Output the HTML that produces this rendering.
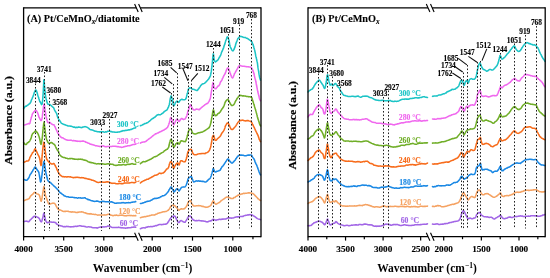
<!DOCTYPE html>
<html><head><meta charset="utf-8"><style>
html,body{margin:0;padding:0;background:#fff;width:550px;height:278px;overflow:hidden}
svg{will-change:transform;filter:blur(0.4px)}
</style></head><body>
<svg width="550" height="278" viewBox="0 0 550 278" style="display:block">
<rect width="550" height="278" fill="#fff"/>
<path d="M23.60,221.81 L24.40,221.56 L25.04,221.31 L25.84,221.15 L26.60,221.13 L27.26,221.33 L27.89,221.69 L28.50,221.81 L28.96,221.60 L29.41,221.04 L29.85,220.28 L30.30,219.80 L30.87,219.33 L31.43,218.85 L32.10,218.12 L32.58,217.75 L33.12,217.13 L33.68,216.62 L34.25,216.26 L34.80,216.26 L35.49,216.48 L36.20,216.62 L36.88,216.91 L37.50,217.16 L38.20,217.41 L38.80,217.98 L39.40,218.78 L39.71,219.42 L40.03,220.02 L40.34,220.78 L40.64,221.25 L40.93,221.70 L41.20,221.86 L41.50,221.77 L41.78,221.25 L42.04,220.40 L42.28,219.52 L42.50,218.85 L42.70,218.04 L42.87,217.41 L43.02,216.86 L43.16,216.06 L43.30,215.31 L43.51,214.56 L43.70,213.42 L43.90,213.00 L44.07,213.49 L44.24,214.09 L44.42,214.86 L44.60,215.90 L44.72,216.33 L44.83,217.01 L44.94,217.77 L45.09,218.44 L45.30,219.29 L45.50,220.07 L45.73,220.63 L45.99,221.07 L46.27,221.70 L46.55,222.06 L46.83,222.46 L47.10,222.64 L47.68,222.83 L48.26,222.34 L48.90,222.27 L49.61,222.01 L50.39,221.97 L51.20,222.10 L51.85,222.30 L52.52,222.15 L53.22,222.16 L53.90,222.14 L54.45,222.37 L55.02,222.41 L55.58,222.56 L56.11,223.25 L56.60,223.97 L57.26,224.29 L57.84,224.69 L58.50,225.15 L59.10,225.42 L59.74,225.55 L60.44,225.78 L61.20,226.05 L61.75,226.00 L62.33,226.19 L62.94,226.47 L63.56,226.70 L64.18,226.58 L64.80,226.82 L65.40,226.81 L65.98,226.47 L66.56,226.33 L67.17,226.62 L67.81,226.47 L68.50,226.52 L69.06,226.79 L69.64,226.79 L70.24,226.70 L70.87,226.93 L71.51,226.75 L72.16,226.81 L72.83,226.73 L73.50,226.60 L74.11,226.60 L74.74,226.51 L75.37,226.19 L76.02,226.29 L76.68,226.42 L77.34,226.16 L78.00,225.93 L78.65,225.97 L79.30,225.82 L79.94,225.63 L80.59,225.89 L81.23,225.99 L81.88,226.24 L82.52,226.19 L83.17,226.22 L83.81,226.21 L84.46,226.55 L85.10,226.57 L85.74,226.81 L86.39,226.97 L87.03,226.94 L87.68,226.91 L88.32,226.82 L88.97,226.85 L89.61,226.95 L90.26,226.98 L90.90,227.07 L91.54,227.25 L92.19,227.57 L92.83,227.67 L93.48,227.75 L94.12,227.75 L94.77,227.80 L95.41,227.76 L96.06,227.75 L96.70,227.87 L97.34,228.11 L97.99,227.74 L98.63,227.40 L99.27,227.35 L99.92,227.22 L100.56,226.89 L101.20,227.02 L101.85,227.12 L102.50,227.04 L103.15,226.85 L103.81,227.04 L104.46,227.06 L105.12,226.85 L105.78,226.75 L106.44,226.74 L107.09,226.41 L107.75,226.04 L108.40,226.07 L109.05,226.26 L109.70,226.23 L110.34,226.35 L110.98,226.93 L111.63,227.23 L112.27,227.43 L112.91,227.50 L113.56,227.57 L114.20,227.49 L114.83,227.52 L115.43,227.50 L116.03,227.40 L116.62,227.59 L117.22,227.45 L117.85,227.46 L118.52,227.14 L119.23,227.48 L120.00,227.49 L120.54,227.65 L121.10,227.60 L121.70,227.88 L122.32,227.87 L122.96,227.72 L123.61,227.93 L124.27,228.03 L124.93,227.90 L125.59,228.21 L126.25,228.08 L126.89,228.01 L127.52,227.85 L128.12,227.89 L128.70,227.64 L129.43,227.79 L130.18,227.75 L130.94,227.57 L131.70,227.36 L132.44,227.32 L133.14,227.16 L133.81,226.94 L134.42,226.92 L134.96,227.24 L135.43,227.08 L135.80,227.15" fill="none" stroke="#A266E6" stroke-width="1.55" stroke-linejoin="round" stroke-linecap="round"/>
<path d="M140.40,228.66 L140.94,228.44 L142.00,228.02 L142.47,227.93 L143.02,227.83 L143.64,227.72 L144.29,227.78 L144.95,227.91 L145.60,227.68 L146.20,227.14 L146.84,227.30 L147.43,226.98 L148.02,226.68 L148.62,226.64 L149.27,226.81 L150.00,226.69 L150.54,226.49 L151.11,226.60 L151.71,226.64 L152.33,226.66 L152.97,226.36 L153.61,226.29 L154.25,226.17 L154.88,225.90 L155.50,225.64 L156.11,225.73 L156.74,225.69 L157.37,225.19 L158.01,225.03 L158.63,224.69 L159.24,224.52 L159.82,224.49 L160.38,224.59 L160.90,224.54 L161.61,224.71 L162.25,224.47 L162.84,224.44 L163.40,224.36 L163.94,224.34 L164.50,224.27 L165.19,224.30 L165.88,223.94 L166.54,223.91 L167.16,223.37 L167.70,222.76 L168.15,221.92 L168.52,221.62 L168.84,220.79 L169.16,220.41 L169.50,219.92 L169.81,219.62 L170.13,218.84 L170.45,218.42 L170.77,218.06 L171.09,217.58 L171.40,217.24 L172.01,216.91 L172.60,216.60 L173.20,216.11 L173.80,215.98 L174.40,216.12 L175.00,216.19 L175.30,216.51 L175.60,217.27 L175.90,218.00 L176.20,218.48 L176.50,219.38 L176.80,220.03 L177.09,220.36 L177.38,220.74 L177.67,221.32 L177.96,221.93 L178.27,222.29 L178.60,222.57 L179.11,222.49 L179.64,221.76 L180.22,220.96 L180.90,220.56 L181.44,220.82 L182.07,220.94 L182.72,221.56 L183.38,221.90 L183.98,222.10 L184.50,222.23 L185.10,222.27 L185.56,221.48 L185.97,220.80 L186.40,220.32 L186.66,219.66 L186.91,219.17 L187.15,218.85 L187.40,218.35 L187.65,217.71 L187.92,217.37 L188.20,216.95 L188.95,216.39 L189.75,215.95 L190.50,216.25 L190.89,216.61 L191.24,217.05 L191.58,217.59 L191.92,218.70 L192.30,218.89 L192.81,219.26 L193.34,219.98 L193.90,220.24 L194.50,220.31 L195.17,220.84 L195.90,220.74 L196.63,220.46 L197.30,220.67 L197.99,220.54 L198.62,220.40 L199.50,220.59 L200.04,220.70 L200.66,220.69 L201.35,220.88 L202.06,220.88 L202.76,220.92 L203.42,221.03 L204.00,221.13 L204.71,221.16 L205.36,221.29 L205.94,221.75 L206.49,221.84 L207.00,221.93 L207.74,221.66 L208.37,221.68 L209.00,221.23 L209.69,221.09 L210.39,220.82 L211.00,220.88 L211.71,220.51 L212.30,219.87 L213.30,219.20 L213.87,219.43 L214.50,219.71 L215.20,219.97 L216.00,220.45 L216.63,220.07 L217.31,219.78 L218.00,219.76 L218.63,219.56 L219.26,219.24 L220.00,219.21 L220.51,219.47 L221.05,219.46 L221.63,219.19 L222.28,218.97 L223.00,219.18 L223.59,218.96 L224.23,218.96 L224.92,219.11 L225.62,219.08 L226.34,218.81 L227.03,218.35 L227.70,217.97 L228.35,217.82 L229.00,217.94 L229.64,217.79 L230.27,218.00 L230.88,218.11 L231.46,218.12 L232.00,218.07 L232.65,218.07 L233.21,217.91 L233.73,217.79 L234.31,217.60 L235.00,217.29 L235.52,217.11 L236.09,217.07 L236.69,216.89 L237.33,216.83 L237.96,216.86 L238.60,216.88 L239.22,216.79 L239.80,216.57 L240.43,216.51 L241.05,216.54 L241.65,216.46 L242.25,216.35 L242.83,216.46 L243.42,216.19 L244.00,215.74 L244.69,215.59 L245.38,215.39 L246.06,215.32 L246.73,215.21 L247.38,215.03 L248.00,214.81 L248.71,215.00 L249.40,214.76 L250.06,214.63 L250.66,214.79 L251.20,214.95 L251.92,214.89 L252.48,215.11 L253.00,215.63 L253.71,216.07 L254.40,216.34 L254.92,216.65 L255.47,217.16 L256.00,217.47 L256.49,217.93 L256.96,218.25 L257.50,218.59 L258.20,218.89 L258.97,219.13 L259.60,219.28 L260.50,219.66" fill="none" stroke="#A266E6" stroke-width="1.55" stroke-linejoin="round" stroke-linecap="round"/>
<path d="M23.60,200.71 L24.40,200.35 L24.85,200.39 L25.41,200.14 L26.01,199.76 L26.60,199.41 L27.18,199.59 L27.78,199.14 L28.36,198.94 L28.90,198.80 L29.37,198.34 L29.80,197.30 L30.23,196.73 L30.70,196.04 L31.14,195.56 L31.61,195.11 L32.09,194.72 L32.56,194.30 L33.00,193.90 L33.62,193.14 L34.18,192.55 L34.80,192.37 L35.23,192.54 L35.68,192.74 L36.16,193.13 L36.63,193.62 L37.10,193.91 L37.69,194.11 L38.28,194.26 L38.86,194.61 L39.40,195.32 L39.63,196.04 L39.85,196.72 L40.06,197.66 L40.27,198.36 L40.47,199.27 L40.66,199.97 L40.85,200.68 L41.03,200.99 L41.20,201.28 L41.38,200.71 L41.55,200.36 L41.71,199.75 L41.86,198.91 L42.01,198.11 L42.14,197.57 L42.27,196.46 L42.40,195.41 L42.51,194.91 L42.61,194.21 L42.70,193.33 L42.79,192.89 L42.87,192.50 L42.96,192.07 L43.04,191.62 L43.12,191.40 L43.20,191.01 L43.35,189.88 L43.49,188.81 L43.62,187.77 L43.76,186.89 L43.90,186.52 L44.04,186.91 L44.18,187.64 L44.31,188.42 L44.45,189.33 L44.60,190.22 L44.71,190.79 L44.81,191.32 L44.91,192.16 L45.02,192.89 L45.14,193.65 L45.26,194.37 L45.40,195.02 L45.56,195.63 L45.73,196.35 L45.91,196.57 L46.10,197.05 L46.33,197.74 L46.60,198.36 L46.81,198.94 L47.04,199.90 L47.29,200.49 L47.55,201.12 L47.82,201.90 L48.09,202.54 L48.37,203.13 L48.64,203.73 L48.90,203.98 L49.69,204.27 L50.47,203.88 L51.20,203.56 L51.84,203.41 L52.42,203.25 L53.00,203.07 L53.60,203.17 L54.20,203.27 L54.80,203.58 L55.16,204.09 L55.52,204.73 L55.87,205.38 L56.23,206.13 L56.60,206.75 L57.05,207.67 L57.49,208.30 L57.97,208.98 L58.50,209.44 L58.97,209.97 L59.48,209.73 L60.02,209.96 L60.59,210.10 L61.20,210.36 L61.75,210.63 L62.33,211.03 L62.94,211.33 L63.56,211.43 L64.18,211.52 L64.80,211.36 L65.40,211.38 L65.98,211.37 L66.56,211.23 L67.17,211.35 L67.81,211.25 L68.50,211.38 L69.07,211.64 L69.67,211.81 L70.31,211.74 L70.96,212.07 L71.62,212.11 L72.27,211.82 L72.90,211.94 L73.50,212.05 L74.15,212.03 L74.78,211.96 L75.39,212.28 L75.99,212.46 L76.58,212.40 L77.19,212.35 L77.80,212.39 L78.44,212.34 L79.09,212.03 L79.76,212.07 L80.41,211.95 L81.05,211.89 L81.65,211.81 L82.20,212.09 L82.83,212.10 L83.33,212.22 L83.80,212.58 L84.36,212.68 L85.10,212.75 L85.63,213.04 L86.23,213.38 L86.88,213.34 L87.57,213.75 L88.28,213.84 L88.99,213.88 L89.67,213.79 L90.31,213.97 L90.90,213.60 L91.68,213.98 L92.37,214.21 L93.03,214.30 L93.66,214.27 L94.31,214.43 L95.00,214.48 L95.63,214.37 L96.28,214.62 L96.95,214.87 L97.62,215.15 L98.29,214.96 L98.95,215.08 L99.60,214.95 L100.24,214.98 L100.87,215.01 L101.50,215.16 L102.12,215.07 L102.75,215.07 L103.37,215.04 L104.00,214.88 L104.63,214.94 L105.25,214.97 L105.88,214.96 L106.50,214.79 L107.13,214.69 L107.76,214.34 L108.40,214.19 L109.05,214.28 L109.71,214.49 L110.38,214.76 L111.05,215.25 L111.72,215.34 L112.37,215.42 L113.00,215.77 L113.70,215.53 L114.37,215.24 L115.03,215.35 L115.69,215.36 L116.38,215.08 L117.10,215.30 L117.66,215.43 L118.23,215.46 L118.80,215.57 L119.39,215.34 L120.00,215.31 L120.63,215.31 L121.30,215.21 L122.00,215.02 L122.54,215.33 L123.10,215.37 L123.69,215.45 L124.29,215.67 L124.90,215.83 L125.53,215.82 L126.16,215.88 L126.80,215.63 L127.43,215.53 L128.07,215.54 L128.70,215.41 L129.36,215.39 L130.06,215.64 L130.80,215.52 L131.55,215.52 L132.30,215.78 L133.03,215.71 L133.72,215.61 L134.36,215.68 L134.94,215.77 L135.42,215.56 L135.80,215.71" fill="none" stroke="#F5A262" stroke-width="1.55" stroke-linejoin="round" stroke-linecap="round"/>
<path d="M140.40,217.70 L140.94,217.58 L142.00,217.36 L142.45,217.01 L142.98,216.96 L143.56,217.03 L144.18,216.68 L144.84,216.63 L145.51,216.68 L146.20,216.43 L146.76,216.26 L147.36,216.18 L147.99,215.95 L148.63,216.04 L149.27,215.81 L149.90,215.53 L150.51,215.43 L151.08,215.19 L151.60,214.94 L152.40,215.00 L153.07,214.95 L153.69,214.92 L154.31,215.11 L155.00,214.79 L155.57,214.34 L156.19,214.19 L156.83,214.05 L157.47,213.49 L158.08,213.26 L158.63,213.23 L159.10,213.07 L159.80,212.66 L160.25,212.64 L160.90,212.52 L161.40,212.38 L161.98,212.14 L162.61,212.08 L163.26,211.84 L163.90,211.82 L164.50,211.73 L165.19,211.48 L165.88,211.40 L166.54,211.16 L167.16,210.82 L167.70,210.47 L168.25,210.26 L168.68,209.62 L169.08,209.17 L169.50,208.64 L169.97,207.77 L170.45,206.95 L170.93,206.31 L171.40,205.91 L172.01,205.41 L172.60,205.22 L173.20,205.20 L173.80,205.35 L174.40,205.40 L175.00,205.94 L175.45,206.49 L175.90,206.85 L176.35,207.38 L176.80,207.77 L177.24,208.21 L177.67,208.96 L178.11,209.76 L178.60,210.01 L179.11,210.12 L179.64,209.71 L180.22,209.24 L180.90,208.97 L181.44,208.80 L182.07,209.01 L182.72,208.99 L183.38,208.93 L183.98,208.69 L184.50,208.75 L185.10,208.01 L185.56,207.45 L185.97,207.01 L186.40,206.39 L186.63,205.88 L186.85,205.78 L187.06,205.43 L187.28,204.73 L187.49,204.10 L187.72,203.46 L187.95,202.82 L188.20,202.24 L188.76,201.61 L189.38,200.76 L189.98,200.71 L190.50,200.55 L190.88,201.15 L191.18,202.03 L191.46,203.14 L191.80,203.69 L192.11,204.24 L192.44,204.67 L192.78,204.96 L193.17,205.57 L193.60,205.94 L194.22,206.10 L194.92,206.01 L195.66,205.94 L196.40,205.76 L196.98,205.69 L197.55,205.73 L198.14,205.72 L198.79,205.49 L199.50,205.68 L200.08,205.85 L200.73,205.78 L201.41,206.09 L202.10,206.43 L202.78,206.24 L203.42,206.53 L204.00,206.82 L204.71,206.96 L205.36,207.11 L205.94,207.42 L206.49,207.14 L207.00,207.24 L207.74,207.03 L208.37,206.72 L209.00,206.44 L209.52,206.34 L210.04,205.96 L210.55,205.52 L211.00,205.08 L211.38,204.22 L211.71,203.51 L212.01,202.84 L212.30,202.43 L212.65,201.54 L212.96,200.98 L213.30,200.87 L213.67,201.15 L214.07,201.92 L214.50,202.93 L214.96,203.51 L215.45,203.95 L216.00,204.16 L216.63,204.00 L217.31,203.47 L218.00,203.09 L218.49,202.78 L218.97,202.81 L219.46,202.34 L220.00,201.89 L220.47,201.59 L220.96,200.97 L221.48,200.36 L221.99,200.14 L222.50,199.83 L223.12,199.43 L223.74,198.98 L224.36,198.64 L225.00,198.05 L225.67,197.66 L226.36,197.19 L227.05,197.05 L227.70,196.92 L228.50,197.19 L229.25,197.49 L230.00,197.88 L230.75,198.37 L231.50,198.50 L232.30,198.55 L232.81,198.58 L233.34,198.26 L233.88,197.57 L234.43,197.51 L235.00,197.39 L235.60,196.68 L236.24,196.29 L236.87,196.15 L237.47,195.65 L238.00,195.20 L238.60,195.11 L239.07,194.79 L239.80,194.55 L240.28,194.46 L240.83,194.14 L241.44,193.95 L242.09,193.97 L242.74,193.63 L243.39,193.37 L244.00,193.36 L244.69,193.43 L245.38,193.24 L246.06,193.27 L246.73,193.15 L247.38,193.10 L248.00,192.88 L248.72,192.84 L249.41,192.89 L250.07,192.95 L250.68,193.07 L251.20,193.04 L252.10,193.27 L252.80,193.40 L253.33,193.94 L253.87,194.17 L254.40,194.79 L254.94,195.39 L255.47,196.01 L256.00,196.36 L256.49,197.03 L256.96,197.43 L257.50,198.01 L258.01,198.77 L258.59,198.96 L259.15,199.49 L259.60,200.06 L260.50,200.53" fill="none" stroke="#F5A262" stroke-width="1.55" stroke-linejoin="round" stroke-linecap="round"/>
<path d="M23.60,179.23 L24.40,179.66 L25.04,179.86 L25.84,180.28 L26.60,180.24 L27.10,180.05 L27.58,179.40 L28.04,178.88 L28.50,178.34 L28.76,177.99 L29.02,177.36 L29.28,176.75 L29.53,176.07 L29.79,175.30 L30.04,174.79 L30.30,174.35 L30.65,173.94 L31.00,173.49 L31.34,173.11 L31.71,172.42 L32.10,171.71 L32.41,171.26 L32.76,170.71 L33.12,169.94 L33.49,169.34 L33.83,168.84 L34.14,168.33 L34.40,167.98 L34.88,167.03 L35.30,167.09 L35.60,167.45 L35.96,167.77 L36.34,168.45 L36.73,169.21 L37.10,169.72 L37.46,170.23 L37.82,170.83 L38.18,171.03 L38.54,171.71 L38.90,172.62 L39.01,173.24 L39.13,173.57 L39.24,174.43 L39.36,175.01 L39.47,175.97 L39.59,176.75 L39.70,177.31 L39.82,177.91 L39.93,178.82 L40.05,179.45 L40.16,179.78 L40.27,180.94 L40.38,181.50 L40.49,181.63 L40.60,181.99 L40.70,181.97 L40.81,181.78 L40.92,181.49 L41.03,181.35 L41.13,180.93 L41.24,180.58 L41.35,179.63 L41.45,178.78 L41.55,178.14 L41.65,177.29 L41.75,176.37 L41.84,175.84 L41.94,175.33 L42.03,174.52 L42.12,173.48 L42.20,172.93 L42.29,172.28 L42.38,171.63 L42.47,170.99 L42.55,170.28 L42.63,169.67 L42.70,168.96 L42.77,168.52 L42.85,167.67 L42.92,167.32 L42.99,166.73 L43.06,166.23 L43.13,165.37 L43.20,165.16 L43.39,163.99 L43.57,163.01 L43.74,162.06 L43.92,161.67 L44.10,161.41 L44.20,161.52 L44.30,162.01 L44.40,162.64 L44.50,163.19 L44.60,164.01 L44.70,165.07 L44.80,165.59 L44.90,166.27 L45.00,167.08 L45.09,167.70 L45.18,168.13 L45.26,168.61 L45.35,169.39 L45.43,169.98 L45.52,170.54 L45.61,171.16 L45.70,172.04 L45.80,172.43 L45.90,172.83 L46.04,173.43 L46.19,174.08 L46.34,174.65 L46.50,175.22 L46.66,176.06 L46.81,176.58 L46.96,177.29 L47.10,177.74 L47.33,178.73 L47.51,179.45 L47.72,180.16 L48.00,180.52 L48.38,181.17 L48.81,181.62 L49.29,181.70 L49.80,182.05 L50.34,182.62 L50.92,183.01 L51.51,183.44 L52.10,184.19 L52.68,184.78 L53.26,185.29 L53.83,185.86 L54.40,186.32 L54.85,186.73 L55.30,187.15 L55.75,187.58 L56.18,188.06 L56.60,188.40 L57.10,188.93 L57.58,189.48 L58.04,189.91 L58.50,190.43 L58.94,191.21 L59.35,191.73 L59.79,192.47 L60.30,192.78 L60.78,193.16 L61.32,193.29 L61.88,193.83 L62.45,194.30 L63.00,194.69 L63.54,195.11 L64.08,195.77 L64.61,195.98 L65.15,196.05 L65.70,196.34 L66.34,196.63 L66.96,196.72 L67.64,196.84 L68.50,196.81 L69.01,197.24 L69.58,197.17 L70.18,197.26 L70.81,197.29 L71.47,197.19 L72.14,197.20 L72.82,197.36 L73.50,197.48 L74.11,197.46 L74.74,197.74 L75.37,197.81 L76.02,197.79 L76.68,197.84 L77.34,198.16 L78.00,198.05 L78.65,197.75 L79.30,197.85 L79.94,197.91 L80.59,197.80 L81.23,198.03 L81.88,198.22 L82.52,198.07 L83.17,198.04 L83.81,197.90 L84.46,197.69 L85.10,197.77 L85.68,198.31 L86.26,198.63 L86.84,198.87 L87.42,199.24 L88.00,199.63 L88.58,199.49 L89.16,199.67 L89.74,199.98 L90.32,200.16 L90.90,200.48 L91.54,200.70 L92.19,200.77 L92.83,200.96 L93.48,201.23 L94.12,201.27 L94.77,201.41 L95.41,201.29 L96.06,201.14 L96.70,201.12 L97.34,201.05 L97.99,201.17 L98.63,201.41 L99.27,201.74 L99.92,201.89 L100.56,201.86 L101.20,201.75 L101.85,201.47 L102.50,201.36 L103.15,201.38 L103.81,201.49 L104.46,201.51 L105.12,201.68 L105.78,201.76 L106.44,201.66 L107.09,201.65 L107.75,201.73 L108.40,201.80 L109.05,201.90 L109.70,201.92 L110.34,201.90 L110.98,201.86 L111.63,201.87 L112.27,202.04 L112.91,202.45 L113.56,202.61 L114.20,202.87 L114.84,203.19 L115.49,203.18 L116.13,203.19 L116.78,203.11 L117.42,203.03 L118.07,202.99 L118.71,203.11 L119.36,203.00 L120.00,203.06 L120.64,203.08 L121.29,202.91 L121.93,202.59 L122.58,202.69 L123.22,202.65 L123.87,202.62 L124.51,202.89 L125.16,203.07 L125.80,202.87 L126.45,202.82 L127.12,202.82 L127.79,202.71 L128.47,202.60 L129.13,202.67 L129.79,202.71 L130.42,202.68 L131.03,202.42 L131.60,202.35 L132.32,202.30 L133.04,202.05 L133.73,201.91 L134.38,201.90 L134.95,201.72 L135.43,201.46 L135.80,201.62" fill="none" stroke="#1A88E4" stroke-width="1.55" stroke-linejoin="round" stroke-linecap="round"/>
<path d="M140.40,203.50 L140.94,203.42 L142.00,203.21 L142.45,202.98 L142.98,203.02 L143.56,202.67 L144.18,202.47 L144.84,202.15 L145.51,202.17 L146.20,201.63 L146.76,201.48 L147.36,201.37 L147.99,201.32 L148.63,201.16 L149.27,200.99 L149.90,200.95 L150.51,200.61 L151.08,200.20 L151.60,199.95 L152.27,199.68 L152.86,199.11 L153.38,198.86 L153.89,198.84 L154.42,198.47 L155.00,198.31 L155.57,198.43 L156.19,198.39 L156.83,198.19 L157.47,198.20 L158.08,198.07 L158.63,197.78 L159.10,197.66 L159.80,197.49 L160.25,197.04 L160.90,196.78 L161.41,196.45 L162.00,196.15 L162.64,195.77 L163.29,195.74 L163.93,195.68 L164.50,195.36 L165.12,194.85 L165.71,194.51 L166.26,193.95 L166.79,193.13 L167.30,192.83 L167.65,192.42 L167.99,191.81 L168.32,191.30 L168.63,190.96 L168.93,190.17 L169.22,189.59 L169.50,189.30 L169.86,188.86 L170.18,188.21 L170.49,187.69 L170.79,187.21 L171.10,186.96 L171.42,187.17 L171.75,187.59 L172.07,188.10 L172.39,188.86 L172.70,189.54 L172.99,190.03 L173.26,190.63 L173.52,191.30 L173.80,191.79 L174.10,191.84 L174.43,191.77 L174.79,191.32 L175.16,190.59 L175.53,190.08 L175.90,189.84 L176.51,188.92 L177.13,188.74 L177.70,188.96 L178.16,189.64 L178.58,190.30 L179.10,190.98 L179.42,190.59 L179.77,190.06 L180.14,189.26 L180.54,188.92 L180.96,188.12 L181.40,187.54 L181.99,187.16 L182.64,187.05 L183.31,186.88 L183.94,187.08 L184.50,187.07 L184.96,186.88 L185.35,186.43 L185.70,185.90 L186.05,185.31 L186.40,184.58 L186.58,184.10 L186.77,183.57 L186.95,183.18 L187.13,182.32 L187.31,181.62 L187.48,181.07 L187.66,180.43 L187.84,179.75 L188.02,179.17 L188.20,178.79 L188.81,177.88 L189.43,177.42 L190.00,177.20 L190.68,176.58 L191.40,176.76 L191.61,177.00 L191.84,177.67 L192.09,178.24 L192.34,178.99 L192.60,179.57 L192.86,180.27 L193.12,180.99 L193.36,181.46 L193.60,181.87 L194.19,181.78 L194.75,181.66 L195.50,181.24 L196.02,180.94 L196.64,180.84 L197.30,181.13 L197.96,181.03 L198.58,180.81 L199.10,181.15 L199.86,181.04 L200.42,181.23 L201.00,181.11 L201.66,181.41 L202.33,181.33 L203.00,181.37 L203.67,181.42 L204.33,181.76 L205.00,181.95 L205.67,181.98 L206.33,181.80 L207.00,181.13 L207.51,180.63 L208.03,180.01 L208.54,179.40 L209.00,179.11 L209.41,178.95 L209.78,178.59 L210.14,178.19 L210.50,177.58 L210.72,177.02 L210.93,176.47 L211.15,175.96 L211.37,175.17 L211.59,174.30 L211.80,173.76 L212.00,173.04 L212.20,172.38 L212.39,171.53 L212.58,170.92 L212.76,170.05 L212.94,169.25 L213.12,168.59 L213.30,168.62 L213.61,168.91 L213.92,169.75 L214.22,170.63 L214.50,171.14 L214.95,171.81 L215.50,172.09 L216.07,171.74 L216.76,171.28 L217.50,171.14 L218.10,170.97 L218.75,170.75 L219.40,170.43 L220.00,170.23 L220.36,169.85 L220.70,169.21 L221.03,168.38 L221.35,167.93 L221.67,167.40 L222.00,166.81 L222.41,166.44 L222.82,166.08 L223.24,165.53 L223.63,164.92 L224.00,164.46 L224.32,163.98 L224.60,163.44 L224.87,163.10 L225.16,162.73 L225.50,162.19 L225.90,161.44 L226.35,161.00 L226.82,160.09 L227.27,159.40 L227.70,158.92 L228.19,159.02 L228.64,159.41 L229.08,160.09 L229.50,160.71 L229.90,161.32 L230.28,161.83 L230.65,162.02 L231.00,162.50 L231.64,163.04 L232.30,163.09 L232.69,162.74 L233.11,162.37 L233.54,161.81 L234.00,161.41 L234.38,160.89 L234.78,160.54 L235.19,160.18 L235.60,159.44 L236.00,158.61 L236.40,158.17 L236.81,157.48 L237.21,156.93 L237.61,156.52 L238.00,156.09 L238.53,155.74 L239.03,155.31 L239.80,155.17 L240.36,155.01 L241.03,155.15 L241.76,155.03 L242.53,155.18 L243.28,155.25 L244.00,155.51 L244.69,155.66 L245.38,155.80 L246.06,155.68 L246.73,155.46 L247.38,155.30 L248.00,155.11 L248.72,155.10 L249.41,155.13 L250.07,155.06 L250.68,155.02 L251.20,155.01 L251.71,155.37 L252.10,156.12 L252.44,156.80 L252.80,157.39 L253.20,157.88 L253.60,158.42 L254.00,159.04 L254.40,159.76 L254.67,160.51 L254.94,161.56 L255.21,162.25 L255.47,162.65 L255.74,163.36 L256.00,163.98 L256.21,164.18 L256.42,164.56 L256.62,165.03 L256.82,165.50 L257.03,166.09 L257.26,166.77 L257.50,167.21 L257.74,168.13 L258.01,168.82 L258.30,169.59 L258.59,170.22 L258.87,171.23 L259.15,171.93 L259.39,172.67 L259.60,172.93 L260.02,174.04 L260.31,174.64 L260.50,174.81" fill="none" stroke="#1A88E4" stroke-width="1.55" stroke-linejoin="round" stroke-linecap="round"/>
<path d="M23.60,162.58 L24.40,162.10 L25.04,161.63 L25.84,161.44 L26.60,161.00 L27.26,160.90 L27.89,160.90 L28.50,160.83 L28.76,160.47 L29.02,159.94 L29.28,159.28 L29.53,158.79 L29.79,157.85 L30.04,157.14 L30.30,156.78 L30.65,156.26 L31.00,155.57 L31.34,154.96 L31.71,154.24 L32.10,153.53 L32.41,152.93 L32.76,152.62 L33.12,152.10 L33.49,151.81 L33.83,151.33 L34.14,150.61 L34.40,149.83 L34.86,148.99 L35.30,148.85 L35.51,149.05 L35.77,149.76 L36.04,150.33 L36.34,151.00 L36.64,151.65 L36.94,152.28 L37.23,152.92 L37.50,153.51 L37.84,154.11 L38.16,154.90 L38.48,155.48 L38.79,155.94 L39.10,156.76 L39.40,157.52 L39.54,157.97 L39.68,158.44 L39.82,159.26 L39.96,159.90 L40.10,160.67 L40.23,161.58 L40.37,162.43 L40.50,163.31 L40.63,164.11 L40.75,164.92 L40.87,165.00 L40.99,165.47 L41.10,165.45 L41.19,165.22 L41.27,164.76 L41.35,164.78 L41.42,164.16 L41.49,163.35 L41.57,162.63 L41.63,161.99 L41.70,160.97 L41.76,160.18 L41.83,159.63 L41.89,158.85 L41.95,158.06 L42.01,157.42 L42.08,156.55 L42.14,155.80 L42.20,155.46 L42.28,154.55 L42.35,153.56 L42.42,152.88 L42.49,151.86 L42.57,151.04 L42.63,150.34 L42.70,149.90 L42.77,149.59 L42.84,149.02 L42.90,148.36 L42.97,147.80 L43.03,147.31 L43.10,146.54 L43.22,145.78 L43.34,144.89 L43.45,144.31 L43.56,143.39 L43.67,142.86 L43.79,142.42 L43.90,142.27 L44.01,142.23 L44.13,142.74 L44.24,143.17 L44.36,143.99 L44.47,145.09 L44.59,146.13 L44.70,146.80 L44.78,147.61 L44.86,148.12 L44.93,148.29 L45.01,148.79 L45.08,149.65 L45.16,150.28 L45.24,151.01 L45.32,151.72 L45.41,152.28 L45.50,152.96 L45.60,153.61 L45.71,154.19 L45.81,154.75 L45.92,155.40 L46.04,156.22 L46.16,156.71 L46.30,157.44 L46.44,158.29 L46.60,158.96 L46.93,159.43 L47.31,160.07 L47.71,160.52 L48.11,161.20 L48.50,161.59 L49.11,162.36 L49.70,162.78 L50.30,163.28 L50.90,163.51 L51.50,164.06 L52.10,163.98 L52.70,163.99 L53.30,163.61 L53.90,163.52 L54.20,163.80 L54.50,164.36 L54.80,164.84 L55.10,165.50 L55.40,165.98 L55.70,166.56 L56.00,167.15 L56.30,167.68 L56.59,168.24 L56.89,169.26 L57.19,169.82 L57.50,170.67 L57.80,171.27 L58.10,171.73 L58.39,172.37 L58.70,173.00 L59.04,173.47 L59.40,173.99 L59.87,174.78 L60.38,175.14 L60.92,175.64 L61.49,175.95 L62.10,176.55 L62.64,176.63 L63.20,176.70 L63.78,176.61 L64.39,176.89 L65.03,176.78 L65.70,176.83 L66.32,176.89 L66.98,177.04 L67.67,176.76 L68.37,176.80 L69.06,176.85 L69.71,176.90 L70.30,176.86 L70.99,177.08 L71.56,177.15 L72.10,177.34 L72.72,177.52 L73.50,177.73 L74.03,177.48 L74.61,177.47 L75.24,177.36 L75.90,177.41 L76.58,177.17 L77.27,177.34 L77.96,177.36 L78.64,177.42 L79.30,177.47 L79.94,177.63 L80.59,177.86 L81.23,177.75 L81.88,177.61 L82.52,177.68 L83.17,177.85 L83.81,177.86 L84.46,178.14 L85.10,178.53 L85.68,178.36 L86.26,178.57 L86.84,178.61 L87.42,178.88 L88.00,179.02 L88.58,179.12 L89.16,179.04 L89.74,179.43 L90.32,179.47 L90.90,179.58 L91.54,180.03 L92.19,180.31 L92.83,180.29 L93.48,180.50 L94.12,180.74 L94.77,181.06 L95.41,181.28 L96.06,181.71 L96.70,182.05 L97.34,182.35 L97.99,182.40 L98.63,182.49 L99.27,182.36 L99.92,182.20 L100.56,181.97 L101.20,181.90 L101.85,181.87 L102.50,182.11 L103.15,182.24 L103.81,182.33 L104.46,182.15 L105.12,182.26 L105.78,182.05 L106.44,181.89 L107.09,181.85 L107.75,181.86 L108.40,181.98 L109.05,182.08 L109.70,182.59 L110.34,182.79 L110.98,183.11 L111.63,183.29 L112.27,183.39 L112.91,183.16 L113.56,183.19 L114.20,183.19 L114.84,183.26 L115.49,183.42 L116.13,183.67 L116.78,183.73 L117.42,183.86 L118.07,183.62 L118.71,183.65 L119.36,183.30 L120.00,183.41 L120.64,183.53 L121.29,183.79 L121.93,183.52 L122.58,183.77 L123.22,183.57 L123.87,183.29 L124.51,182.90 L125.16,183.09 L125.80,183.10 L126.45,183.05 L127.12,182.98 L127.79,183.01 L128.47,183.09 L129.13,182.93 L129.79,182.87 L130.42,182.68 L131.03,182.59 L131.60,182.40 L132.32,182.50 L133.04,182.57 L133.73,182.75 L134.38,182.84 L134.95,182.53 L135.43,182.26 L135.80,182.18" fill="none" stroke="#F76C1C" stroke-width="1.55" stroke-linejoin="round" stroke-linecap="round"/>
<path d="M140.40,182.98 L140.94,182.42 L142.00,181.75 L142.45,181.42 L142.98,181.16 L143.56,180.79 L144.18,180.64 L144.84,180.29 L145.51,179.97 L146.20,179.83 L146.76,179.25 L147.36,179.22 L147.99,179.17 L148.63,178.93 L149.27,178.36 L149.90,178.25 L150.51,177.75 L151.08,177.59 L151.60,177.10 L152.27,176.91 L152.86,176.48 L153.38,176.23 L153.89,175.87 L154.42,175.57 L155.00,175.30 L155.57,175.29 L156.19,175.16 L156.83,174.83 L157.47,174.64 L158.08,174.24 L158.63,173.78 L159.10,173.31 L159.80,173.15 L160.25,173.33 L160.90,173.62 L161.42,173.57 L162.03,173.26 L162.69,173.11 L163.36,172.89 L163.98,172.35 L164.50,171.90 L165.10,171.31 L165.56,170.49 L165.97,169.98 L166.40,169.38 L166.87,168.90 L167.34,168.79 L167.79,168.51 L168.20,167.87 L168.41,167.57 L168.60,167.33 L168.79,166.58 L168.96,166.02 L169.14,165.18 L169.31,164.58 L169.50,163.90 L169.77,163.29 L170.03,162.52 L170.31,161.97 L170.59,161.58 L170.90,161.58 L171.14,161.81 L171.41,162.10 L171.68,162.65 L171.96,163.18 L172.23,163.80 L172.48,164.48 L172.70,165.48 L173.00,166.56 L173.23,167.63 L173.47,168.22 L173.80,168.34 L174.10,167.68 L174.44,167.07 L174.81,166.13 L175.19,165.64 L175.56,164.93 L175.90,164.55 L176.54,163.50 L177.14,163.12 L177.70,162.81 L178.18,163.47 L178.62,164.33 L179.10,164.96 L179.36,164.65 L179.60,163.77 L179.86,162.90 L180.15,161.76 L180.49,161.13 L180.90,160.72 L181.42,160.79 L182.03,160.86 L182.69,161.26 L183.36,161.61 L183.98,161.90 L184.50,161.85 L185.00,161.82 L185.41,161.31 L185.76,160.33 L186.09,159.39 L186.40,158.47 L186.55,157.74 L186.70,157.35 L186.83,157.28 L186.96,156.54 L187.08,155.91 L187.20,155.28 L187.32,154.55 L187.44,153.64 L187.57,153.35 L187.70,152.70 L188.02,151.79 L188.34,151.16 L188.68,150.69 L189.10,150.00 L189.82,149.62 L190.64,149.25 L191.40,149.73 L191.68,150.12 L191.94,150.89 L192.18,151.50 L192.42,152.45 L192.66,152.99 L192.92,153.39 L193.20,153.70 L193.91,154.52 L194.69,154.68 L195.50,154.67 L196.14,154.75 L196.82,154.53 L197.51,154.17 L198.20,153.90 L198.91,153.85 L199.64,153.71 L200.35,153.72 L201.00,153.63 L201.73,153.45 L202.36,153.56 L203.00,153.52 L203.67,153.44 L204.33,153.56 L205.00,153.62 L205.67,153.02 L206.33,152.88 L207.00,152.64 L207.51,152.27 L208.03,151.87 L208.54,151.69 L209.00,150.94 L209.33,150.33 L209.64,149.76 L209.92,149.20 L210.21,148.35 L210.50,147.52 L210.62,147.11 L210.73,146.56 L210.85,145.94 L210.97,145.39 L211.09,144.62 L211.20,144.11 L211.32,143.59 L211.44,142.82 L211.55,142.27 L211.67,141.80 L211.78,141.08 L211.89,140.34 L212.00,139.72 L212.17,138.82 L212.34,138.03 L212.51,137.00 L212.67,136.41 L212.83,136.07 L212.99,135.67 L213.14,135.41 L213.30,135.43 L213.48,135.28 L213.66,135.41 L213.83,135.77 L214.00,136.33 L214.17,137.05 L214.34,137.89 L214.50,138.25 L214.81,139.43 L215.10,140.20 L215.50,140.39 L215.92,140.23 L216.41,140.15 L216.94,139.41 L217.50,138.64 L217.98,138.30 L218.49,137.80 L219.01,137.42 L219.52,136.97 L220.00,136.54 L220.36,135.95 L220.70,135.46 L221.03,134.81 L221.35,134.24 L221.67,133.44 L222.00,133.01 L222.34,132.60 L222.69,132.18 L223.03,131.59 L223.37,131.19 L223.70,130.61 L224.00,130.03 L224.23,129.61 L224.44,129.06 L224.64,128.44 L224.83,127.91 L225.03,127.24 L225.25,126.38 L225.50,125.80 L225.90,125.13 L226.35,124.42 L226.82,123.59 L227.27,123.10 L227.70,123.06 L228.09,123.13 L228.46,123.57 L228.82,124.44 L229.17,125.29 L229.50,125.77 L229.82,126.54 L230.13,127.16 L230.43,127.81 L230.72,128.31 L231.00,129.02 L231.64,129.47 L232.30,129.55 L232.69,129.27 L233.12,129.06 L233.56,128.34 L234.00,128.09 L234.44,127.53 L234.88,127.07 L235.33,126.57 L235.80,125.95 L236.12,125.44 L236.45,124.85 L236.79,124.30 L237.13,123.67 L237.46,123.18 L237.80,122.52 L238.27,122.05 L238.72,121.51 L239.22,121.03 L239.80,120.78 L240.36,120.53 L240.99,120.34 L241.66,120.36 L242.33,120.11 L243.00,120.16 L243.66,120.61 L244.34,120.81 L245.02,120.82 L245.68,120.98 L246.30,120.76 L247.03,120.63 L247.72,120.64 L248.37,120.63 L249.00,120.89 L249.79,121.13 L250.53,121.29 L251.20,121.73 L251.56,122.16 L251.88,122.84 L252.19,123.53 L252.49,124.18 L252.80,124.76 L253.07,125.23 L253.33,125.75 L253.60,126.30 L253.87,126.76 L254.13,127.32 L254.40,127.97 L254.67,128.34 L254.94,129.05 L255.21,129.63 L255.47,130.35 L255.74,130.96 L256.00,131.43 L256.30,131.89 L256.58,132.55 L256.86,133.07 L257.16,133.61 L257.50,134.54 L257.71,134.85 L257.95,135.33 L258.20,136.02 L258.46,136.89 L258.72,137.55 L258.97,138.35 L259.20,139.24 L259.42,139.46 L259.60,139.71 L260.02,140.79 L260.31,141.44 L260.50,141.56" fill="none" stroke="#F76C1C" stroke-width="1.55" stroke-linejoin="round" stroke-linecap="round"/>
<path d="M23.60,142.55 L24.40,143.48 L24.99,144.27 L25.70,144.53 L26.11,144.42 L26.56,144.26 L27.03,143.21 L27.50,142.83 L28.15,142.58 L28.81,141.92 L29.40,141.35 L29.76,140.90 L30.08,140.27 L30.38,139.52 L30.70,139.23 L30.89,138.54 L31.08,138.16 L31.27,137.52 L31.47,136.75 L31.67,135.77 L31.88,135.22 L32.10,134.71 L32.53,133.74 L33.00,133.30 L33.47,132.94 L33.90,132.49 L34.40,131.97 L34.86,131.38 L35.30,131.10 L35.92,131.07 L36.60,131.95 L36.89,131.96 L37.21,132.57 L37.55,133.02 L37.89,133.71 L38.21,134.24 L38.50,135.13 L38.72,135.62 L38.92,136.02 L39.10,136.66 L39.28,137.33 L39.45,137.97 L39.62,138.58 L39.80,139.46 L39.98,140.32 L40.15,141.15 L40.32,141.97 L40.49,143.02 L40.66,143.75 L40.83,144.14 L41.00,144.37 L41.12,144.22 L41.24,143.74 L41.37,143.32 L41.49,142.61 L41.61,141.83 L41.73,141.22 L41.85,140.53 L41.97,139.58 L42.09,138.96 L42.20,138.15 L42.27,137.67 L42.34,137.20 L42.40,136.71 L42.47,136.05 L42.53,135.28 L42.60,134.36 L42.66,133.47 L42.73,132.76 L42.79,132.16 L42.85,131.47 L42.91,131.00 L42.97,130.32 L43.03,129.55 L43.09,128.74 L43.14,128.41 L43.20,127.89 L43.30,127.24 L43.39,126.32 L43.48,125.60 L43.57,124.81 L43.66,124.07 L43.74,123.36 L43.83,122.93 L43.91,122.39 L44.00,122.12 L44.09,122.16 L44.18,122.82 L44.27,123.38 L44.36,124.40 L44.44,125.25 L44.53,126.20 L44.62,126.78 L44.71,127.55 L44.80,128.17 L44.88,128.78 L44.96,129.17 L45.04,129.76 L45.12,130.54 L45.20,131.10 L45.28,131.86 L45.36,132.60 L45.44,133.18 L45.52,133.79 L45.60,134.18 L45.69,134.82 L45.78,135.37 L45.86,135.81 L45.95,136.42 L46.04,137.02 L46.14,137.47 L46.26,138.02 L46.40,138.73 L46.62,139.23 L46.88,140.06 L47.16,140.52 L47.45,141.34 L47.74,141.81 L48.00,142.39 L48.47,142.98 L48.91,143.56 L49.40,143.52 L49.97,143.09 L50.59,142.72 L51.20,142.44 L51.80,142.56 L52.40,143.15 L53.00,143.65 L53.60,143.95 L54.20,144.43 L54.80,145.02 L55.10,145.47 L55.40,146.24 L55.69,146.84 L55.99,147.41 L56.29,148.24 L56.60,148.68 L56.99,149.39 L57.40,150.15 L57.81,150.63 L58.18,150.96 L58.50,151.57 L58.81,152.30 L59.00,153.03 L59.40,154.10 L59.74,154.80 L60.13,155.25 L60.58,155.69 L61.07,156.19 L61.58,156.50 L62.10,156.90 L62.64,157.07 L63.20,157.45 L63.78,157.56 L64.39,157.58 L65.03,157.76 L65.70,158.18 L66.32,158.26 L66.98,158.31 L67.67,158.63 L68.37,158.83 L69.06,158.81 L69.71,158.49 L70.30,158.61 L70.99,158.61 L71.56,158.46 L72.10,158.54 L72.72,158.86 L73.50,158.88 L74.03,159.16 L74.61,158.99 L75.24,159.25 L75.90,159.28 L76.58,159.23 L77.27,159.19 L77.96,159.44 L78.64,159.10 L79.30,159.30 L79.94,159.27 L80.59,159.13 L81.23,159.28 L81.88,159.47 L82.52,159.33 L83.17,159.74 L83.81,160.10 L84.46,160.11 L85.10,160.10 L85.68,160.39 L86.26,160.58 L86.84,160.78 L87.42,161.24 L88.00,161.67 L88.58,161.90 L89.16,162.08 L89.74,162.37 L90.32,162.25 L90.90,162.63 L91.54,162.55 L92.19,162.85 L92.83,162.81 L93.48,163.15 L94.12,163.24 L94.77,163.58 L95.41,163.60 L96.06,163.82 L96.70,163.93 L97.34,163.80 L97.99,163.85 L98.63,163.63 L99.27,163.89 L99.92,163.78 L100.56,163.83 L101.20,163.75 L101.85,164.08 L102.50,163.72 L103.15,163.93 L103.81,164.08 L104.46,164.28 L105.12,164.28 L105.78,164.24 L106.44,164.06 L107.09,163.94 L107.75,163.83 L108.40,163.81 L109.06,164.00 L109.72,164.31 L110.40,164.08 L111.07,164.27 L111.73,164.27 L112.38,164.35 L113.01,164.33 L113.62,164.88 L114.20,165.04 L114.88,165.17 L115.49,165.37 L116.06,165.43 L116.62,165.21 L117.20,165.20 L117.81,165.11 L118.50,164.88 L119.09,164.82 L119.71,164.98 L120.35,164.93 L121.02,164.89 L121.70,164.90 L122.38,164.66 L123.06,164.59 L123.74,164.57 L124.40,164.81 L125.05,164.92 L125.70,164.87 L126.35,164.72 L127.00,164.48 L127.64,164.26 L128.29,164.31 L128.93,164.45 L129.56,164.21 L130.20,164.14 L130.86,163.93 L131.57,163.73 L132.29,163.63 L133.01,163.92 L133.71,164.28 L134.36,164.33 L134.94,164.16 L135.42,164.17 L135.80,164.12" fill="none" stroke="#70AE28" stroke-width="1.55" stroke-linejoin="round" stroke-linecap="round"/>
<path d="M140.40,163.71 L140.94,163.12 L142.00,162.56 L142.45,161.87 L142.98,161.67 L143.56,161.58 L144.18,161.73 L144.84,161.66 L145.51,161.62 L146.20,161.24 L146.70,161.23 L147.24,160.65 L147.79,160.42 L148.37,160.22 L148.95,160.09 L149.53,159.52 L150.09,159.50 L150.63,159.29 L151.14,159.01 L151.60,158.64 L152.27,158.31 L152.86,157.81 L153.38,157.40 L153.89,157.09 L154.42,156.86 L155.00,156.71 L155.58,156.65 L156.21,156.25 L156.88,155.96 L157.53,155.59 L158.14,155.16 L158.68,154.69 L159.10,154.53 L160.00,154.00 L160.39,153.62 L160.88,153.29 L161.44,153.04 L162.03,152.67 L162.62,152.37 L163.15,152.13 L163.60,151.67 L164.36,150.83 L164.94,150.51 L165.50,150.17 L166.13,149.73 L166.75,149.33 L167.30,149.27 L167.73,148.55 L168.10,148.21 L168.50,147.41 L168.66,147.32 L168.82,146.49 L168.99,146.04 L169.17,145.05 L169.34,144.26 L169.52,143.23 L169.69,142.54 L169.85,142.07 L170.00,141.54 L170.29,140.51 L170.54,139.81 L170.80,139.37 L171.10,139.19 L171.31,139.63 L171.54,140.18 L171.78,140.66 L172.02,141.49 L172.26,142.32 L172.49,143.23 L172.70,143.78 L172.94,144.90 L173.13,145.71 L173.31,146.49 L173.52,146.82 L173.80,147.17 L174.05,146.98 L174.34,146.84 L174.65,146.19 L174.97,145.69 L175.29,145.08 L175.61,144.46 L175.90,143.71 L176.54,143.27 L177.14,142.78 L177.70,142.64 L178.18,142.97 L178.62,143.87 L179.10,144.11 L179.37,143.95 L179.64,143.33 L179.92,142.80 L180.22,142.20 L180.54,141.36 L180.90,141.03 L181.52,140.79 L182.22,140.92 L182.93,141.10 L183.60,141.53 L184.41,141.51 L185.19,141.62 L185.90,140.83 L186.10,140.21 L186.30,139.61 L186.49,138.94 L186.68,138.25 L186.86,137.70 L187.03,137.03 L187.21,136.15 L187.37,135.42 L187.54,135.05 L187.70,134.57 L187.89,133.97 L188.07,133.16 L188.24,132.59 L188.40,131.77 L188.56,131.06 L188.73,130.61 L188.91,130.30 L189.10,129.99 L189.67,129.31 L190.29,128.94 L190.90,129.05 L191.15,129.41 L191.39,129.98 L191.62,130.48 L191.86,131.23 L192.11,131.95 L192.39,132.50 L192.70,132.96 L193.33,133.55 L194.04,133.75 L194.78,133.96 L195.50,133.90 L196.18,133.70 L196.85,133.51 L197.52,133.32 L198.20,132.82 L198.91,132.84 L199.64,132.62 L200.35,132.50 L201.00,132.28 L201.73,132.13 L202.36,131.95 L203.00,131.62 L203.67,131.22 L204.33,130.92 L205.00,130.55 L205.67,130.03 L206.33,129.49 L207.00,129.11 L207.51,128.79 L208.03,128.56 L208.54,127.99 L209.00,127.78 L209.33,127.26 L209.64,126.76 L209.92,125.91 L210.21,125.19 L210.50,123.99 L210.62,123.80 L210.73,123.37 L210.85,122.91 L210.97,122.46 L211.09,121.99 L211.20,121.13 L211.32,120.41 L211.44,119.83 L211.55,119.03 L211.67,118.10 L211.78,117.48 L211.89,117.01 L212.00,116.64 L212.13,115.98 L212.25,115.37 L212.37,114.59 L212.49,113.79 L212.61,112.92 L212.73,112.18 L212.84,111.66 L212.96,111.10 L213.07,110.59 L213.19,110.16 L213.30,109.86 L213.51,109.91 L213.71,110.58 L213.92,111.24 L214.12,112.24 L214.31,113.41 L214.50,114.01 L214.81,114.64 L215.10,115.52 L215.50,115.82 L215.92,115.68 L216.41,115.22 L216.94,115.00 L217.50,114.10 L217.98,113.63 L218.49,113.28 L219.01,113.21 L219.52,112.53 L220.00,112.20 L220.36,111.83 L220.70,111.02 L221.03,110.39 L221.35,110.00 L221.67,109.45 L222.00,108.93 L222.34,108.68 L222.69,108.08 L223.03,107.50 L223.37,107.14 L223.70,106.42 L224.00,105.74 L224.23,105.08 L224.44,104.55 L224.64,103.72 L224.83,103.23 L225.03,102.64 L225.25,102.15 L225.50,101.73 L225.90,101.07 L226.35,100.46 L226.82,99.92 L227.27,99.64 L227.70,99.29 L228.09,99.66 L228.46,100.16 L228.82,100.75 L229.17,101.43 L229.50,102.14 L229.82,102.66 L230.13,103.39 L230.43,104.01 L230.72,104.37 L231.00,104.67 L231.64,105.54 L232.30,105.59 L232.69,105.40 L233.12,105.13 L233.56,104.87 L234.00,104.23 L234.29,103.85 L234.59,103.19 L234.88,102.58 L235.18,101.91 L235.49,101.42 L235.80,100.57 L236.12,100.21 L236.45,99.79 L236.79,99.20 L237.13,98.38 L237.46,98.10 L237.80,97.64 L238.30,96.93 L238.79,96.23 L239.29,95.88 L239.80,95.73 L240.50,95.36 L241.22,95.52 L242.00,95.72 L242.63,95.95 L243.28,95.81 L243.97,96.04 L244.70,96.09 L245.32,96.04 L245.98,96.36 L246.66,96.48 L247.34,96.53 L248.00,96.57 L248.67,96.85 L249.36,96.70 L250.04,96.84 L250.66,97.08 L251.20,97.35 L251.56,97.64 L251.85,97.78 L252.10,98.55 L252.33,99.29 L252.55,100.05 L252.80,100.79 L252.98,101.63 L253.16,102.06 L253.33,102.58 L253.51,103.28 L253.69,103.75 L253.87,104.35 L254.04,104.84 L254.22,105.41 L254.40,106.04 L254.58,106.70 L254.75,107.23 L254.93,107.86 L255.11,108.58 L255.28,108.88 L255.46,109.39 L255.64,110.06 L255.82,110.70 L256.00,111.17 L256.17,111.99 L256.33,112.67 L256.50,113.16 L256.66,113.83 L256.83,114.53 L257.00,114.96 L257.17,115.80 L257.35,116.73 L257.52,117.29 L257.70,118.09 L257.87,118.49 L258.05,119.16 L258.23,119.50 L258.42,120.22 L258.61,120.62 L258.79,121.43 L258.97,121.74 L259.15,122.31 L259.31,122.97 L259.46,123.62 L259.60,124.05 L260.17,125.39 L260.50,125.90" fill="none" stroke="#70AE28" stroke-width="1.55" stroke-linejoin="round" stroke-linecap="round"/>
<path d="M23.60,124.83 L24.03,125.04 L24.64,124.88 L25.34,124.67 L26.02,124.42 L26.60,124.22 L27.34,123.94 L27.95,123.81 L28.50,123.56 L29.18,123.90 L29.80,123.42 L29.95,122.94 L30.11,122.22 L30.26,121.66 L30.42,120.92 L30.58,120.37 L30.74,119.69 L30.89,119.00 L31.05,118.58 L31.20,118.11 L31.42,117.32 L31.62,116.59 L31.82,115.99 L32.03,115.21 L32.25,114.35 L32.50,113.80 L32.85,113.10 L33.25,112.67 L33.65,112.17 L34.05,111.85 L34.40,111.34 L35.06,110.42 L35.70,110.10 L36.03,110.33 L36.38,110.54 L36.75,111.33 L37.13,111.91 L37.50,112.65 L37.73,113.13 L37.97,113.85 L38.21,114.54 L38.45,115.31 L38.69,116.16 L38.93,116.88 L39.17,117.44 L39.40,117.79 L39.78,118.75 L40.17,119.36 L40.54,119.95 L40.89,120.44 L41.20,120.56 L41.41,120.22 L41.59,119.90 L41.75,119.46 L41.90,118.99 L42.04,118.18 L42.20,117.32 L42.28,116.94 L42.35,116.25 L42.43,115.37 L42.51,114.85 L42.59,114.05 L42.67,113.38 L42.75,112.61 L42.82,112.25 L42.90,111.33 L42.98,110.88 L43.05,110.33 L43.13,109.76 L43.20,109.21 L43.33,108.33 L43.46,107.12 L43.59,106.17 L43.72,105.62 L43.85,104.83 L43.97,104.26 L44.10,104.34 L44.21,104.39 L44.32,104.66 L44.43,105.23 L44.54,106.02 L44.66,106.75 L44.77,107.82 L44.88,108.84 L45.00,109.57 L45.10,110.26 L45.19,110.96 L45.29,111.48 L45.39,112.00 L45.49,112.53 L45.59,113.26 L45.69,113.85 L45.79,114.50 L45.90,115.14 L46.00,115.90 L46.13,116.71 L46.27,117.34 L46.41,118.03 L46.56,118.50 L46.70,119.12 L46.84,119.68 L46.97,120.18 L47.10,120.42 L47.33,121.13 L47.53,121.83 L47.74,122.27 L48.00,122.69 L48.70,122.70 L49.40,122.29 L50.30,122.77 L50.83,123.26 L51.47,123.86 L52.10,124.32 L53.06,124.74 L53.90,124.72 L54.23,125.06 L54.47,125.70 L54.80,126.48 L55.05,126.87 L55.33,127.41 L55.64,128.27 L55.96,128.89 L56.28,129.63 L56.60,130.24 L56.91,131.01 L57.23,131.77 L57.55,132.48 L57.87,132.98 L58.19,133.57 L58.50,134.15 L58.85,134.35 L59.18,134.96 L59.52,135.41 L59.88,135.91 L60.30,136.42 L60.77,137.00 L61.29,137.33 L61.84,137.78 L62.41,137.70 L63.00,137.96 L63.59,138.37 L64.19,138.75 L64.82,139.02 L65.48,139.58 L66.20,139.73 L66.74,139.95 L67.30,140.04 L67.88,140.34 L68.49,140.21 L69.12,140.25 L69.79,140.23 L70.50,140.34 L71.09,140.08 L71.73,140.40 L72.41,140.70 L73.10,140.62 L73.80,140.61 L74.49,140.77 L75.17,140.87 L75.81,140.87 L76.40,141.14 L77.10,141.06 L77.74,141.36 L78.35,141.34 L78.93,141.18 L79.51,141.28 L80.09,141.50 L80.70,141.20 L81.32,141.22 L81.95,141.23 L82.58,140.94 L83.21,140.95 L83.84,141.26 L84.47,141.47 L85.10,141.53 L85.72,142.15 L86.32,142.29 L86.91,142.46 L87.52,142.70 L88.14,143.23 L88.80,143.17 L89.50,143.62 L90.02,144.05 L90.57,144.28 L91.14,144.29 L91.72,144.60 L92.31,144.69 L92.91,144.63 L93.52,144.86 L94.12,145.22 L94.71,145.33 L95.30,145.68 L95.94,145.85 L96.56,145.81 L97.18,145.99 L97.80,146.07 L98.42,146.20 L99.06,146.21 L99.71,146.49 L100.39,146.48 L101.10,146.26 L101.66,145.97 L102.25,145.93 L102.85,146.04 L103.48,145.78 L104.11,146.19 L104.75,146.48 L105.39,146.65 L106.02,146.56 L106.65,146.71 L107.25,146.59 L107.84,146.49 L108.40,146.49 L109.11,146.52 L109.79,146.58 L110.44,146.53 L111.08,146.47 L111.70,146.50 L112.32,146.27 L112.94,146.19 L113.56,146.26 L114.20,146.30 L114.84,146.27 L115.49,146.21 L116.13,146.38 L116.78,146.46 L117.42,146.68 L118.07,146.53 L118.71,146.84 L119.36,146.96 L120.00,147.04 L120.64,147.06 L121.29,147.37 L121.93,147.23 L122.58,147.18 L123.22,147.00 L123.87,146.68 L124.51,146.63 L125.16,146.57 L125.80,146.27 L126.45,146.13 L127.12,145.97 L127.79,145.73 L128.47,145.66 L129.13,145.73 L129.79,145.64 L130.42,145.49 L131.03,145.34 L131.60,145.08 L132.32,144.72 L133.04,144.52 L133.73,144.48 L134.38,144.40 L134.95,144.33 L135.43,144.32 L135.80,144.32" fill="none" stroke="#F068EE" stroke-width="1.55" stroke-linejoin="round" stroke-linecap="round"/>
<path d="M140.40,143.12 L140.94,142.74 L142.00,142.34 L142.47,142.19 L143.02,142.07 L143.64,142.10 L144.29,142.04 L144.95,141.80 L145.60,141.56 L146.20,141.14 L146.77,140.63 L147.32,140.24 L147.87,139.76 L148.41,139.26 L148.94,138.89 L149.47,138.58 L150.00,138.22 L150.52,137.89 L151.04,137.48 L151.55,136.93 L152.06,136.58 L152.57,136.06 L153.08,135.80 L153.60,135.14 L154.12,134.89 L154.65,134.57 L155.18,134.07 L155.72,133.68 L156.25,133.72 L156.78,133.52 L157.30,133.03 L157.91,132.99 L158.51,132.71 L159.11,132.26 L159.70,132.00 L160.30,131.84 L160.90,131.49 L161.51,131.08 L162.13,130.93 L162.75,130.52 L163.36,130.32 L163.95,130.04 L164.50,129.69 L165.14,129.21 L165.75,128.92 L166.33,128.36 L166.85,127.94 L167.30,127.64 L167.74,127.08 L168.06,126.11 L168.33,125.53 L168.60,124.81 L168.81,124.16 L169.01,123.45 L169.19,123.18 L169.39,122.44 L169.60,121.58 L169.77,120.84 L169.95,120.20 L170.13,119.11 L170.32,118.23 L170.51,117.86 L170.71,117.61 L170.90,117.46 L171.13,117.87 L171.36,118.50 L171.60,118.74 L171.84,119.51 L172.07,120.32 L172.30,120.91 L172.52,121.31 L172.72,122.46 L172.92,123.30 L173.13,123.82 L173.35,124.31 L173.60,124.85 L173.88,124.55 L174.19,124.05 L174.52,123.46 L174.85,122.79 L175.18,121.99 L175.50,121.26 L175.96,120.26 L176.41,119.88 L176.85,119.27 L177.30,119.17 L177.74,119.78 L178.17,120.82 L178.61,121.25 L179.10,121.48 L179.53,121.14 L179.99,120.31 L180.46,119.51 L180.94,119.01 L181.40,118.51 L182.14,118.58 L182.86,119.23 L183.60,119.53 L184.19,119.17 L184.80,119.10 L185.39,118.46 L185.90,117.63 L186.15,117.06 L186.37,116.83 L186.57,116.13 L186.75,115.81 L186.93,115.26 L187.11,114.44 L187.30,113.77 L187.49,112.96 L187.66,112.12 L187.83,111.43 L188.01,111.07 L188.19,110.36 L188.38,110.27 L188.60,109.66 L188.84,109.07 L189.10,108.23 L189.38,107.31 L189.66,106.38 L189.95,105.74 L190.23,105.16 L190.50,104.69 L190.80,105.05 L191.09,105.51 L191.38,106.05 L191.67,106.98 L191.98,107.89 L192.30,108.25 L192.81,109.06 L193.34,109.68 L193.90,109.87 L194.50,109.90 L195.18,109.78 L195.93,109.23 L196.66,108.94 L197.30,109.15 L197.97,109.37 L198.53,109.49 L199.10,109.76 L199.55,109.56 L200.00,108.87 L200.47,108.41 L201.00,108.10 L201.48,107.53 L202.00,107.13 L202.54,106.68 L203.08,106.30 L203.60,105.76 L204.22,105.30 L204.84,104.74 L205.43,104.45 L206.00,104.06 L206.53,103.74 L207.02,103.48 L207.50,103.48 L208.00,102.96 L208.35,102.29 L208.72,101.86 L209.09,101.33 L209.45,100.41 L209.79,99.61 L210.10,99.04 L210.24,98.62 L210.37,97.91 L210.50,97.46 L210.61,96.84 L210.73,96.12 L210.84,95.40 L210.95,94.74 L211.05,93.87 L211.16,93.18 L211.27,92.38 L211.38,91.47 L211.50,91.10 L211.60,90.51 L211.71,89.80 L211.82,89.26 L211.92,88.54 L212.03,87.79 L212.14,87.06 L212.25,86.46 L212.36,85.61 L212.47,85.25 L212.58,84.49 L212.68,84.04 L212.79,83.31 L212.90,82.86 L213.00,82.62 L213.18,82.78 L213.35,83.11 L213.53,84.05 L213.70,85.10 L213.87,86.08 L214.05,86.92 L214.22,87.57 L214.40,88.05 L215.14,88.78 L215.90,88.62 L216.41,88.04 L216.93,87.51 L217.50,86.63 L217.85,86.12 L218.20,86.07 L218.57,85.92 L219.00,85.43 L219.50,84.85 L219.74,84.46 L220.00,83.39 L220.28,82.48 L220.57,81.97 L220.88,81.50 L221.19,81.04 L221.50,80.66 L221.81,80.25 L222.12,79.52 L222.43,78.60 L222.72,78.00 L223.00,77.52 L223.30,76.85 L223.59,76.24 L223.89,75.66 L224.18,75.08 L224.47,74.65 L224.75,74.10 L225.03,73.85 L225.29,73.19 L225.54,72.64 L225.78,71.82 L226.00,71.35 L226.36,70.28 L226.66,69.76 L226.92,69.16 L227.17,68.67 L227.43,68.16 L227.70,67.97 L228.06,68.10 L228.43,68.39 L228.80,69.27 L229.16,70.43 L229.50,71.09 L229.73,71.68 L229.95,72.54 L230.16,72.91 L230.37,73.45 L230.58,74.27 L230.79,74.69 L231.00,75.26 L231.36,76.36 L231.72,77.04 L232.09,77.63 L232.50,77.95 L232.76,77.67 L233.03,77.30 L233.32,76.85 L233.61,76.03 L233.91,75.24 L234.20,74.52 L234.50,73.55 L234.85,73.15 L235.20,72.63 L235.56,71.95 L235.91,71.13 L236.26,70.89 L236.60,70.05 L236.94,69.43 L237.27,68.88 L237.60,68.38 L237.92,67.68 L238.22,67.13 L238.50,66.67 L238.91,66.09 L239.25,65.67 L239.80,65.49 L240.32,65.52 L240.94,65.82 L241.62,65.95 L242.32,66.16 L243.00,66.27 L243.66,66.26 L244.34,66.22 L245.02,66.38 L245.68,66.52 L246.30,66.63 L247.03,66.71 L247.72,66.69 L248.37,66.77 L249.00,66.98 L249.76,67.03 L250.47,66.98 L251.20,67.62 L251.46,67.95 L251.72,68.12 L251.99,68.58 L252.25,69.25 L252.52,69.75 L252.79,70.22 L253.06,71.12 L253.33,71.87 L253.60,72.59 L253.75,73.05 L253.90,73.82 L254.06,74.34 L254.22,74.84 L254.37,75.72 L254.53,76.42 L254.69,76.83 L254.84,77.53 L255.00,78.19 L255.15,78.70 L255.30,79.39 L255.45,80.05 L255.59,80.42 L255.73,81.05 L255.87,81.79 L256.00,82.27 L256.13,83.17 L256.26,83.97 L256.38,84.50 L256.50,85.00 L256.61,85.81 L256.72,86.18 L256.83,86.53 L256.93,87.32 L257.04,87.77 L257.14,88.36 L257.25,88.84 L257.36,89.65 L257.47,90.09 L257.58,90.60 L257.70,91.06 L257.87,92.03 L258.05,92.71 L258.23,93.38 L258.42,94.27 L258.61,94.77 L258.79,95.47 L258.97,96.21 L259.15,97.13 L259.31,97.76 L259.46,98.51 L259.60,98.93 L259.92,99.87 L260.17,100.21 L260.36,100.55 L260.50,100.80" fill="none" stroke="#F068EE" stroke-width="1.55" stroke-linejoin="round" stroke-linecap="round"/>
<path d="M23.60,108.83 L23.86,108.14 L24.24,107.68 L24.80,106.93 L25.25,106.38 L25.79,106.13 L26.38,106.12 L26.96,105.58 L27.50,105.21 L28.11,104.89 L28.71,104.36 L29.27,103.83 L29.80,103.61 L30.13,103.06 L30.45,102.50 L30.76,102.01 L31.05,101.17 L31.33,100.24 L31.60,99.72 L31.91,98.97 L32.19,98.16 L32.46,97.60 L32.73,97.00 L33.00,96.28 L33.23,95.92 L33.47,95.20 L33.71,94.56 L33.94,93.71 L34.17,93.04 L34.40,92.37 L34.73,91.65 L35.06,90.86 L35.38,90.27 L35.70,90.09 L36.02,90.13 L36.34,90.66 L36.66,91.41 L37.00,92.32 L37.18,92.92 L37.35,93.51 L37.53,94.29 L37.72,94.95 L37.91,95.59 L38.10,96.11 L38.30,96.75 L38.50,97.25 L38.71,97.81 L38.94,98.79 L39.17,99.42 L39.41,100.35 L39.65,101.07 L39.88,101.53 L40.10,101.59 L40.30,102.19 L40.67,102.63 L41.01,103.40 L41.31,104.16 L41.60,104.60 L41.81,104.35 L41.99,104.23 L42.17,103.63 L42.33,102.65 L42.50,101.38 L42.55,100.94 L42.60,100.64 L42.65,100.03 L42.70,99.56 L42.75,98.91 L42.80,98.27 L42.85,97.34 L42.89,96.74 L42.94,96.11 L42.99,95.60 L43.04,94.93 L43.08,94.47 L43.13,93.77 L43.17,93.04 L43.22,92.36 L43.26,91.82 L43.30,90.81 L43.34,90.07 L43.37,89.43 L43.41,88.66 L43.44,88.10 L43.48,87.59 L43.51,86.88 L43.54,86.18 L43.57,85.47 L43.61,84.66 L43.64,84.01 L43.67,83.35 L43.70,82.60 L43.73,81.85 L43.76,81.04 L43.80,80.46 L43.83,80.09 L43.86,79.82 L43.90,79.69 L43.95,79.73 L44.01,79.89 L44.06,80.36 L44.11,80.44 L44.16,81.09 L44.22,81.80 L44.27,82.52 L44.33,83.38 L44.39,84.58 L44.46,85.61 L44.53,86.52 L44.60,87.48 L44.66,87.90 L44.72,88.34 L44.78,88.79 L44.84,89.27 L44.90,89.88 L44.97,90.52 L45.04,91.68 L45.11,92.21 L45.18,93.08 L45.25,93.67 L45.32,94.35 L45.39,94.74 L45.47,95.54 L45.55,95.84 L45.62,96.49 L45.70,96.99 L45.84,97.46 L45.99,98.22 L46.14,98.92 L46.30,99.40 L46.46,100.05 L46.62,100.84 L46.78,101.27 L46.94,102.10 L47.10,102.66 L47.44,103.33 L47.78,103.90 L48.12,104.36 L48.50,104.24 L49.07,104.36 L49.69,104.47 L50.30,104.93 L50.91,105.30 L51.53,105.94 L52.10,106.46 L52.83,107.15 L53.50,107.50 L53.82,108.20 L54.13,108.90 L54.44,109.83 L54.80,110.47 L55.03,111.01 L55.29,111.31 L55.56,111.79 L55.83,112.00 L56.10,112.56 L56.36,112.99 L56.60,113.53 L56.86,114.31 L57.10,115.16 L57.33,115.97 L57.55,116.76 L57.77,117.50 L58.00,117.99 L58.33,118.58 L58.66,119.14 L59.00,119.59 L59.40,120.04 L59.76,120.62 L60.13,121.52 L60.54,121.90 L60.99,122.70 L61.50,123.37 L61.99,123.53 L62.55,123.69 L63.14,124.20 L63.74,124.38 L64.30,124.53 L64.80,124.73 L65.57,125.04 L66.21,125.29 L67.00,125.50 L67.58,125.72 L68.19,126.07 L68.86,126.02 L69.63,126.02 L70.50,126.12 L71.00,126.27 L71.55,126.30 L72.14,126.63 L72.76,126.82 L73.40,127.20 L74.04,127.00 L74.67,127.13 L75.28,127.50 L75.86,127.62 L76.40,127.25 L77.10,127.57 L77.74,127.42 L78.35,127.02 L78.93,126.97 L79.51,127.31 L80.09,127.29 L80.70,127.48 L81.34,127.61 L81.99,127.52 L82.66,127.12 L83.31,126.96 L83.95,126.86 L84.55,126.68 L85.10,126.62 L85.75,126.83 L86.30,126.91 L86.80,127.05 L87.35,127.42 L88.00,127.81 L88.48,128.10 L89.00,128.72 L89.54,129.16 L90.11,129.47 L90.69,129.68 L91.27,129.84 L91.84,129.99 L92.40,130.08 L93.01,130.35 L93.59,130.56 L94.17,130.87 L94.76,130.97 L95.37,131.32 L96.01,131.35 L96.70,131.53 L97.28,131.62 L97.89,131.69 L98.52,131.82 L99.17,131.88 L99.83,131.89 L100.50,131.85 L101.18,131.91 L101.84,131.75 L102.50,131.86 L103.15,131.75 L103.81,132.05 L104.46,132.17 L105.12,132.09 L105.78,131.82 L106.44,131.95 L107.09,131.67 L107.75,131.18 L108.40,131.17 L109.06,131.15 L109.72,131.20 L110.40,131.34 L111.07,131.75 L111.73,131.62 L112.38,132.00 L113.01,132.09 L113.62,131.93 L114.20,131.91 L114.89,132.31 L115.53,132.18 L116.14,132.15 L116.73,132.19 L117.31,132.31 L117.89,131.91 L118.50,132.08 L119.11,131.90 L119.71,131.97 L120.31,131.51 L120.91,131.50 L121.54,131.09 L122.20,131.12 L122.90,130.64 L123.48,130.75 L124.07,130.63 L124.68,130.67 L125.31,130.37 L125.96,130.43 L126.62,130.17 L127.30,130.27 L127.99,129.92 L128.70,129.80 L129.27,129.86 L129.89,129.77 L130.55,129.52 L131.23,129.36 L131.93,129.27 L132.61,128.67 L133.28,128.57 L133.91,128.31 L134.49,128.13 L135.01,127.87 L135.45,127.96 L135.80,127.71" fill="none" stroke="#1CC4C6" stroke-width="1.55" stroke-linejoin="round" stroke-linecap="round"/>
<path d="M140.40,125.61 L140.94,125.67 L142.00,125.14 L142.47,124.79 L143.02,124.59 L143.64,124.43 L144.29,123.80 L144.95,123.55 L145.60,123.46 L146.20,123.24 L146.77,122.86 L147.32,122.83 L147.87,122.53 L148.41,122.04 L148.94,121.53 L149.47,121.35 L150.00,120.70 L150.52,120.21 L151.04,119.68 L151.55,119.25 L152.06,118.88 L152.57,118.47 L153.08,118.38 L153.60,118.00 L154.12,117.58 L154.65,117.17 L155.18,116.95 L155.72,116.32 L156.25,115.88 L156.78,115.47 L157.30,114.89 L157.91,114.67 L158.51,114.60 L159.11,114.75 L159.70,114.73 L160.30,114.74 L160.90,114.42 L161.42,114.13 L161.95,113.57 L162.48,113.23 L163.01,113.10 L163.53,112.46 L164.03,111.84 L164.50,111.42 L165.02,111.10 L165.53,110.64 L166.01,110.44 L166.47,110.30 L166.90,109.97 L167.30,109.40 L167.61,108.71 L167.90,108.21 L168.16,107.57 L168.41,107.09 L168.64,106.65 L168.87,105.77 L169.10,105.04 L169.23,104.51 L169.36,103.90 L169.49,103.13 L169.62,102.75 L169.74,102.09 L169.86,101.28 L169.98,100.28 L170.09,99.68 L170.20,99.10 L170.31,98.33 L170.41,98.09 L170.50,97.95 L170.91,95.98 L171.30,95.94 L171.45,96.25 L171.61,96.74 L171.78,97.22 L171.96,98.15 L172.14,98.64 L172.32,99.52 L172.50,100.25 L172.64,100.87 L172.77,101.45 L172.91,102.64 L173.05,103.66 L173.19,104.37 L173.33,105.06 L173.48,105.70 L173.64,105.68 L173.80,105.75 L174.06,105.74 L174.33,105.20 L174.62,104.61 L174.91,103.93 L175.21,103.06 L175.50,102.37 L175.95,102.09 L176.43,101.45 L176.88,101.17 L177.30,101.15 L177.73,101.49 L178.11,102.04 L178.60,102.32 L178.99,102.07 L179.43,101.33 L179.90,100.63 L180.40,100.05 L180.90,99.70 L181.56,99.30 L182.25,99.38 L182.94,99.73 L183.60,99.69 L184.22,99.80 L184.83,99.69 L185.40,99.28 L185.90,98.75 L186.10,98.32 L186.27,97.58 L186.44,97.15 L186.59,96.80 L186.73,95.72 L186.87,94.98 L187.01,94.51 L187.15,93.78 L187.30,93.21 L187.49,92.81 L187.66,92.24 L187.83,91.44 L188.01,90.86 L188.19,90.07 L188.38,89.38 L188.60,88.89 L189.18,88.11 L189.82,87.78 L190.50,88.00 L191.01,88.10 L191.54,88.46 L192.10,89.02 L192.70,89.35 L193.38,89.28 L194.12,89.53 L194.86,89.82 L195.50,89.98 L196.17,90.25 L196.72,90.41 L197.30,90.43 L197.67,90.07 L198.04,89.47 L198.43,88.88 L198.84,88.59 L199.30,87.68 L199.67,87.22 L200.08,86.62 L200.52,85.88 L200.96,85.11 L201.40,84.93 L201.81,84.47 L202.20,84.15 L202.99,83.78 L203.70,83.66 L204.40,83.34 L204.81,82.92 L205.21,82.49 L205.61,82.42 L206.03,81.89 L206.50,81.32 L206.88,80.93 L207.30,80.60 L207.74,79.93 L208.19,79.50 L208.63,79.05 L209.04,78.38 L209.40,77.63 L209.63,77.37 L209.84,76.90 L210.04,76.39 L210.23,76.13 L210.41,75.80 L210.58,74.98 L210.75,74.18 L210.90,73.25 L211.05,72.54 L211.20,71.83 L211.29,71.38 L211.38,70.83 L211.47,70.21 L211.55,69.40 L211.62,68.59 L211.70,67.93 L211.77,67.39 L211.83,67.19 L211.90,66.61 L211.97,66.05 L212.03,65.49 L212.10,65.02 L212.16,64.11 L212.23,63.66 L212.30,63.35 L212.37,62.44 L212.45,61.65 L212.52,60.86 L212.59,59.75 L212.66,58.79 L212.74,58.22 L212.81,57.59 L212.88,57.03 L212.95,56.34 L213.02,55.65 L213.09,54.96 L213.16,54.29 L213.23,53.80 L213.30,53.94 L213.41,53.93 L213.52,54.59 L213.63,55.39 L213.73,56.08 L213.84,56.99 L213.95,58.10 L214.06,58.75 L214.18,59.32 L214.30,60.32 L214.58,60.97 L214.87,61.50 L215.17,61.74 L215.50,61.97 L215.92,61.52 L216.38,61.35 L217.00,60.70 L217.30,60.49 L217.64,60.05 L218.02,59.77 L218.41,59.16 L218.81,58.27 L219.21,57.56 L219.61,57.04 L220.00,56.40 L220.23,55.88 L220.47,55.58 L220.71,55.01 L220.96,54.14 L221.20,53.48 L221.44,52.74 L221.68,52.04 L221.92,51.51 L222.15,51.23 L222.38,50.49 L222.59,50.17 L222.80,49.63 L223.00,49.20 L223.24,48.58 L223.46,48.18 L223.67,47.49 L223.86,46.73 L224.05,46.06 L224.23,45.67 L224.42,45.07 L224.60,44.53 L224.80,44.22 L225.00,43.62 L225.19,42.71 L225.40,41.90 L225.60,41.23 L225.81,40.46 L226.02,39.99 L226.23,39.39 L226.44,39.00 L226.64,38.31 L226.83,37.62 L227.02,37.23 L227.20,36.98 L227.51,36.86 L227.79,37.18 L228.06,37.91 L228.32,38.52 L228.56,39.21 L228.80,39.73 L228.94,40.12 L229.07,40.66 L229.18,41.08 L229.29,41.82 L229.40,42.64 L229.52,43.63 L229.65,44.56 L229.81,45.35 L230.00,46.09 L230.20,46.62 L230.42,47.07 L230.67,47.53 L230.93,48.16 L231.20,48.74 L231.47,49.22 L231.75,49.79 L232.01,50.23 L232.26,50.52 L232.50,50.67 L232.87,50.92 L233.22,50.47 L233.56,50.01 L233.89,49.51 L234.20,48.99 L234.50,48.10 L234.71,47.66 L234.90,47.12 L235.08,46.65 L235.25,45.89 L235.42,45.49 L235.60,44.71 L235.79,43.96 L236.00,43.37 L236.23,42.69 L236.47,42.22 L236.72,41.64 L236.98,41.02 L237.24,40.01 L237.50,39.52 L237.76,38.76 L238.00,38.62 L238.45,37.96 L238.89,37.59 L239.33,36.97 L239.80,36.65 L240.51,36.34 L241.27,36.42 L242.00,36.67 L242.68,37.05 L243.34,37.23 L244.00,37.40 L244.67,37.57 L245.33,37.54 L246.00,37.93 L246.63,38.26 L247.26,38.36 L248.00,38.81 L248.46,39.30 L248.98,39.55 L249.53,40.05 L250.07,40.21 L250.58,40.63 L251.00,41.18 L251.48,41.51 L251.84,41.68 L252.16,42.70 L252.50,43.42 L252.71,43.75 L252.91,44.20 L253.12,44.86 L253.32,45.40 L253.53,46.07 L253.76,47.02 L254.00,48.05 L254.12,48.50 L254.25,48.69 L254.38,49.27 L254.51,49.57 L254.65,50.12 L254.79,50.69 L254.93,51.70 L255.07,52.00 L255.21,52.68 L255.35,53.35 L255.49,54.15 L255.62,54.85 L255.75,55.66 L255.88,56.25 L256.00,56.89 L256.14,57.33 L256.28,57.75 L256.40,58.35 L256.53,59.01 L256.65,59.36 L256.76,60.19 L256.88,60.83 L257.00,61.23 L257.12,61.55 L257.24,62.14 L257.37,62.77 L257.50,63.52 L257.58,64.29 L257.67,65.10 L257.76,65.79 L257.85,66.50 L257.94,67.21 L258.04,67.83 L258.13,68.45 L258.23,69.04 L258.32,69.63 L258.42,70.09 L258.51,70.57 L258.61,71.14 L258.70,71.96 L258.79,72.55 L258.89,73.24 L258.97,73.85 L259.06,74.46 L259.14,74.87 L259.22,75.18 L259.30,75.66 L259.55,77.13 L259.79,77.95 L260.01,78.59 L260.21,79.43 L260.38,79.86 L260.50,79.98" fill="none" stroke="#1CC4C6" stroke-width="1.55" stroke-linejoin="round" stroke-linecap="round"/>
<path d="M308.00,225.74 L308.45,225.65 L309.11,225.88 L309.83,225.58 L310.50,225.59 L311.09,225.50 L311.66,225.06 L312.23,224.34 L312.80,223.88 L313.38,223.41 L313.95,222.88 L314.53,222.82 L315.10,222.50 L315.69,222.35 L316.28,222.03 L316.86,221.78 L317.40,221.61 L318.04,221.32 L318.62,221.13 L319.20,221.16 L319.80,221.26 L320.40,221.45 L321.00,221.79 L321.60,222.03 L322.20,222.32 L322.80,222.87 L323.26,223.23 L323.73,224.06 L324.18,224.49 L324.60,224.68 L324.98,224.55 L325.33,224.01 L325.66,223.14 L326.00,222.55 L326.28,221.90 L326.56,221.07 L326.85,220.04 L327.13,219.56 L327.40,219.20 L327.62,219.09 L327.84,219.32 L328.05,220.03 L328.26,220.57 L328.48,221.15 L328.70,221.86 L329.03,222.77 L329.37,223.73 L329.72,224.27 L330.10,224.81 L330.69,224.91 L331.31,224.49 L331.90,224.07 L332.63,223.64 L333.30,223.38 L333.95,223.23 L334.60,223.13 L335.04,222.68 L335.50,222.03 L336.00,221.55 L336.57,221.97 L337.19,222.64 L337.80,223.31 L338.40,223.67 L338.99,223.99 L339.60,224.36 L340.20,224.62 L340.80,224.54 L341.50,224.88 L342.08,225.07 L342.69,225.16 L343.38,225.44 L344.20,225.80 L344.74,225.74 L345.33,225.55 L345.96,225.42 L346.62,225.34 L347.30,225.30 L348.00,225.40 L348.70,225.66 L349.32,225.78 L349.95,225.59 L350.59,225.42 L351.25,225.30 L351.92,225.08 L352.60,225.17 L353.29,225.10 L354.00,224.96 L354.58,224.91 L355.17,224.79 L355.77,224.86 L356.39,224.86 L357.01,225.02 L357.63,224.97 L358.25,225.03 L358.87,224.57 L359.49,224.40 L360.10,224.44 L360.70,224.50 L361.30,224.74 L361.90,224.65 L362.50,224.79 L363.10,224.55 L363.70,224.40 L364.30,223.96 L364.90,224.14 L365.50,224.13 L366.10,224.21 L366.71,224.33 L367.32,224.47 L367.93,224.70 L368.54,224.68 L369.15,224.99 L369.76,224.67 L370.37,224.89 L370.98,224.79 L371.59,225.04 L372.20,225.10 L372.80,225.64 L373.41,225.78 L374.01,226.21 L374.61,226.16 L375.21,226.06 L375.80,226.26 L376.40,226.37 L377.00,225.97 L377.60,226.22 L378.20,226.17 L378.80,226.11 L379.40,226.11 L380.00,226.15 L380.60,226.10 L381.19,225.96 L381.79,225.71 L382.39,225.46 L382.99,225.35 L383.60,224.89 L384.20,224.86 L384.80,224.42 L385.39,224.25 L385.98,224.03 L386.57,224.35 L387.16,224.28 L387.75,224.28 L388.36,224.44 L388.99,224.73 L389.63,224.54 L390.30,224.92 L390.88,225.30 L391.47,225.23 L392.07,225.11 L392.69,224.81 L393.32,224.61 L393.96,224.62 L394.60,224.54 L395.24,224.45 L395.89,224.80 L396.53,224.55 L397.17,224.44 L397.80,224.62 L398.43,224.99 L399.04,225.06 L399.66,225.32 L400.27,225.45 L400.89,225.57 L401.51,225.40 L402.13,225.27 L402.76,225.19 L403.40,224.98 L404.05,224.74 L404.72,224.78 L405.40,224.97 L405.95,225.08 L406.50,225.24 L407.04,225.29 L407.59,225.33 L408.14,225.38 L408.70,225.43 L409.27,225.57 L409.85,225.55 L410.44,225.43 L411.04,225.49 L411.67,225.39 L412.32,225.22 L412.98,225.18 L413.68,225.29 L414.40,225.00 L414.95,224.83 L415.54,224.74 L416.17,224.70 L416.83,224.65 L417.52,224.61 L418.23,224.71 L418.95,224.65 L419.68,224.71 L420.41,224.49 L421.15,224.63 L421.87,224.41 L422.59,224.35 L423.28,224.18 L423.95,224.30 L424.59,224.14 L425.20,224.33 L425.76,224.31 L426.28,224.28 L426.75,224.04 L427.15,223.97 L427.50,223.77" fill="none" stroke="#A266E6" stroke-width="1.55" stroke-linejoin="round" stroke-linecap="round"/>
<path d="M432.50,224.08 L433.06,224.18 L434.00,224.29 L434.50,224.29 L435.09,224.23 L435.73,224.02 L436.38,223.94 L437.00,223.82 L437.57,224.03 L438.10,224.10 L438.66,224.40 L439.27,224.58 L440.00,224.37 L440.53,224.25 L441.10,224.34 L441.71,224.27 L442.34,224.02 L443.00,224.22 L443.67,223.98 L444.34,223.78 L445.00,223.55 L445.59,223.68 L446.19,223.45 L446.80,223.51 L447.42,223.41 L448.03,223.20 L448.66,222.89 L449.27,222.87 L449.89,222.56 L450.50,222.51 L451.12,222.41 L451.76,222.17 L452.41,222.02 L453.06,221.98 L453.69,221.68 L454.30,221.48 L454.88,221.49 L455.42,221.39 L455.90,221.26 L456.78,221.23 L457.47,221.11 L458.04,220.95 L458.60,220.58 L458.97,220.28 L459.31,219.73 L459.64,219.39 L459.94,218.78 L460.23,218.25 L460.50,217.61 L460.72,217.12 L460.91,216.36 L461.09,215.75 L461.27,215.06 L461.44,214.28 L461.61,213.71 L461.80,213.30 L462.15,212.40 L462.50,211.43 L462.85,211.21 L463.20,210.66 L463.62,210.75 L464.03,211.19 L464.50,212.22 L464.78,212.43 L465.09,213.23 L465.42,213.91 L465.75,214.67 L466.08,215.12 L466.40,215.85 L466.77,216.61 L467.13,217.40 L467.48,217.99 L467.84,218.62 L468.20,218.85 L468.80,218.68 L469.40,218.13 L470.00,217.93 L470.60,218.21 L471.20,218.47 L471.80,218.76 L472.40,218.77 L472.99,218.50 L473.60,218.14 L474.25,218.12 L474.91,217.92 L475.50,217.31 L475.79,216.98 L476.04,216.34 L476.27,215.59 L476.52,214.83 L476.80,214.41 L477.38,213.79 L478.01,213.20 L478.60,212.76 L479.33,212.56 L480.00,212.70 L480.34,213.14 L480.68,213.85 L481.02,214.72 L481.40,215.07 L481.94,215.53 L482.52,215.78 L483.20,216.22 L483.81,216.48 L484.49,216.70 L485.20,216.67 L485.90,216.80 L486.57,216.93 L487.24,216.84 L487.92,216.95 L488.60,217.17 L489.32,217.45 L490.06,217.24 L490.77,217.25 L491.40,217.22 L492.09,217.58 L492.67,218.08 L493.20,218.63 L493.81,218.88 L494.50,219.07 L495.05,218.61 L495.71,218.20 L496.38,217.67 L497.00,217.47 L497.55,216.97 L498.06,216.82 L498.55,216.47 L499.00,216.37 L499.54,215.86 L500.02,215.29 L500.50,215.15 L500.88,215.68 L501.25,216.25 L501.62,216.87 L502.00,217.31 L502.46,217.96 L502.93,218.25 L503.50,218.59 L504.02,218.61 L504.59,218.77 L505.25,218.59 L506.00,218.29 L506.57,218.16 L507.20,218.05 L507.88,217.56 L508.57,217.20 L509.29,217.14 L510.00,217.11 L510.62,217.13 L511.25,217.45 L511.89,217.50 L512.55,217.44 L513.20,217.16 L513.85,216.87 L514.50,216.64 L515.16,216.53 L515.83,216.44 L516.51,216.62 L517.18,216.49 L517.82,216.35 L518.44,216.12 L519.00,216.22 L519.69,215.97 L520.29,215.84 L520.84,215.96 L521.40,216.11 L522.00,216.05 L522.64,216.09 L523.27,216.50 L523.93,216.45 L524.64,216.45 L525.40,216.33 L525.98,216.33 L526.59,216.17 L527.21,216.33 L527.87,216.26 L528.55,216.12 L529.26,216.22 L530.00,216.26 L530.56,215.84 L531.17,215.81 L531.82,215.82 L532.49,215.82 L533.16,215.75 L533.82,215.84 L534.45,215.79 L535.03,215.99 L535.56,215.68 L536.00,215.69 L536.93,215.76 L537.41,216.12 L538.00,216.16 L538.55,216.35 L539.18,216.26 L539.82,216.27 L540.45,215.95 L541.00,215.79 L541.74,215.76 L542.37,215.32 L543.00,215.03 L543.74,215.03 L544.48,214.78 L545.00,214.45" fill="none" stroke="#A266E6" stroke-width="1.55" stroke-linejoin="round" stroke-linecap="round"/>
<path d="M308.00,203.53 L308.45,203.20 L309.11,202.71 L309.83,202.38 L310.50,202.16 L311.09,201.96 L311.66,201.75 L312.23,201.70 L312.80,201.15 L313.18,200.97 L313.57,200.53 L313.95,200.18 L314.33,199.82 L314.72,199.47 L315.10,198.84 L315.69,198.19 L316.28,198.00 L316.86,197.67 L317.40,197.31 L318.04,197.04 L318.62,197.00 L319.20,196.69 L319.80,196.61 L320.40,197.04 L321.00,197.53 L321.45,198.02 L321.90,198.63 L322.35,199.34 L322.80,199.85 L323.17,200.32 L323.54,201.18 L323.91,202.02 L324.27,202.62 L324.60,202.93 L324.86,202.73 L325.10,202.01 L325.33,201.29 L325.55,200.32 L325.77,199.37 L326.00,198.67 L326.20,198.15 L326.40,197.22 L326.61,196.46 L326.81,195.50 L327.01,195.15 L327.21,194.77 L327.40,194.45 L327.59,194.61 L327.78,195.19 L327.96,195.57 L328.14,196.06 L328.32,197.20 L328.51,198.29 L328.70,199.04 L328.97,200.00 L329.23,201.14 L329.51,201.62 L329.79,202.14 L330.10,202.36 L330.69,202.32 L331.31,201.92 L331.90,201.88 L332.63,201.22 L333.30,201.04 L333.95,201.49 L334.60,201.96 L335.04,201.40 L335.50,200.80 L336.00,200.67 L336.42,201.11 L336.88,201.63 L337.34,202.21 L337.80,202.82 L338.40,203.16 L338.99,203.48 L339.60,204.10 L340.20,204.78 L340.80,205.15 L341.50,205.55 L342.08,205.75 L342.69,205.92 L343.38,205.89 L344.20,206.10 L344.74,206.08 L345.33,206.20 L345.96,206.14 L346.62,206.21 L347.30,206.12 L348.00,206.25 L348.70,206.10 L349.32,205.93 L349.95,205.89 L350.59,206.07 L351.25,206.01 L351.92,206.02 L352.60,206.05 L353.29,206.05 L354.00,205.94 L354.58,205.86 L355.17,205.99 L355.77,206.05 L356.39,205.96 L357.01,205.66 L357.63,205.65 L358.25,205.44 L358.87,205.43 L359.49,205.20 L360.10,205.39 L360.70,205.42 L361.30,205.48 L361.90,205.49 L362.50,205.66 L363.10,205.22 L363.70,205.04 L364.30,204.95 L364.90,204.65 L365.50,204.42 L366.10,204.70 L366.71,204.82 L367.32,204.83 L367.93,205.03 L368.54,205.28 L369.15,205.36 L369.76,205.49 L370.37,205.86 L370.98,205.89 L371.59,206.08 L372.20,206.48 L372.80,206.65 L373.41,206.67 L374.01,207.08 L374.61,207.12 L375.21,206.90 L375.80,206.77 L376.40,206.66 L377.00,206.65 L377.60,206.91 L378.20,207.01 L378.80,207.11 L379.40,207.27 L380.00,207.22 L380.60,207.05 L381.19,206.75 L381.79,206.64 L382.39,206.18 L382.99,206.03 L383.60,205.81 L384.20,205.89 L384.80,206.09 L385.39,206.52 L385.98,206.54 L386.57,206.67 L387.16,206.77 L387.75,206.54 L388.36,206.39 L388.99,206.57 L389.63,206.45 L390.30,206.37 L390.88,206.47 L391.47,206.59 L392.07,206.48 L392.69,206.49 L393.32,206.57 L393.96,206.54 L394.60,206.32 L395.24,206.25 L395.89,206.32 L396.53,206.46 L397.17,206.56 L397.80,206.62 L398.43,206.63 L399.04,206.65 L399.66,206.47 L400.27,206.37 L400.89,206.59 L401.51,206.53 L402.13,206.37 L402.76,206.35 L403.40,206.50 L404.05,206.62 L404.72,206.54 L405.40,206.69 L405.95,206.74 L406.50,206.47 L407.04,206.26 L407.59,206.36 L408.14,206.43 L408.70,206.71 L409.27,206.84 L409.85,206.87 L410.44,206.96 L411.04,206.83 L411.67,206.49 L412.32,206.68 L412.98,206.66 L413.68,206.56 L414.40,206.49 L414.95,206.64 L415.54,206.51 L416.17,206.66 L416.83,206.80 L417.52,207.00 L418.23,206.90 L418.95,206.83 L419.68,206.48 L420.41,206.33 L421.15,206.24 L421.87,206.26 L422.59,206.36 L423.28,206.44 L423.95,206.32 L424.59,206.36 L425.20,206.45 L425.76,206.21 L426.28,206.20 L426.75,206.31 L427.15,206.26 L427.50,206.03" fill="none" stroke="#F5A262" stroke-width="1.55" stroke-linejoin="round" stroke-linecap="round"/>
<path d="M432.50,206.38 L433.06,206.33 L434.00,206.50 L434.50,206.62 L435.09,206.38 L435.73,206.07 L436.38,206.11 L437.00,205.82 L437.57,205.55 L438.10,205.52 L438.66,205.86 L439.27,205.81 L440.00,205.83 L440.53,206.00 L441.10,206.49 L441.71,206.65 L442.34,206.82 L443.00,206.85 L443.67,206.82 L444.34,206.50 L445.00,206.40 L445.58,206.23 L446.17,206.15 L446.77,205.99 L447.37,205.75 L447.97,205.53 L448.59,205.46 L449.21,205.24 L449.85,205.07 L450.50,204.80 L451.11,204.68 L451.77,204.49 L452.44,204.30 L453.14,204.32 L453.83,204.42 L454.50,203.99 L455.15,203.60 L455.76,203.68 L456.31,203.29 L456.80,203.24 L457.58,202.90 L458.18,202.67 L458.65,202.25 L459.07,201.69 L459.50,201.02 L459.78,200.69 L460.03,200.20 L460.28,199.54 L460.51,199.26 L460.73,198.40 L460.95,197.92 L461.17,197.44 L461.40,196.73 L461.71,195.75 L462.01,195.40 L462.31,194.69 L462.60,193.55 L462.90,193.17 L463.20,192.72 L463.65,192.64 L464.10,193.03 L464.55,194.12 L465.00,194.79 L465.37,195.55 L465.74,196.01 L466.11,196.56 L466.47,197.14 L466.80,197.80 L467.18,198.32 L467.53,199.16 L467.87,199.61 L468.20,199.93 L468.62,199.59 L469.03,199.21 L469.50,198.32 L469.94,197.92 L470.42,197.15 L470.92,196.92 L471.40,196.49 L472.01,196.43 L472.60,196.73 L473.20,197.03 L473.81,197.31 L474.43,197.62 L475.00,197.34 L475.22,197.04 L475.43,196.73 L475.63,195.91 L475.83,195.22 L476.02,194.75 L476.21,194.11 L476.40,193.49 L476.72,192.67 L477.02,192.04 L477.34,191.56 L477.70,191.10 L478.26,190.44 L478.87,190.00 L479.50,190.05 L479.81,190.44 L480.13,190.68 L480.45,191.33 L480.77,192.26 L481.09,192.95 L481.40,193.24 L481.99,194.33 L482.57,194.72 L483.20,194.67 L483.74,194.69 L484.33,194.43 L484.92,193.92 L485.50,193.67 L486.24,193.69 L486.96,193.53 L487.70,193.81 L488.27,193.81 L488.84,194.34 L489.42,194.65 L490.00,194.98 L490.58,195.25 L491.16,195.93 L491.73,196.34 L492.30,196.57 L493.03,196.95 L493.75,197.19 L494.50,197.16 L495.12,196.91 L495.76,196.63 L496.40,196.32 L497.00,195.85 L497.72,195.33 L498.39,194.62 L499.00,194.30 L499.54,193.68 L500.02,193.05 L500.50,192.90 L500.88,193.66 L501.25,194.37 L501.62,194.99 L502.00,195.96 L502.46,196.22 L502.93,196.35 L503.50,196.59 L504.07,196.55 L504.72,195.81 L505.39,195.84 L506.00,195.84 L506.70,195.52 L507.35,195.60 L508.00,195.76 L508.65,195.73 L509.30,195.32 L510.00,195.19 L510.60,194.95 L511.25,194.82 L511.90,194.51 L512.50,194.38 L513.19,193.99 L513.81,193.33 L514.50,192.93 L515.10,192.58 L515.75,192.54 L516.40,192.26 L517.00,192.14 L517.67,192.24 L518.28,192.36 L519.00,192.32 L519.53,192.21 L520.11,192.25 L520.72,192.13 L521.36,191.79 L522.00,191.33 L522.67,191.41 L523.37,191.18 L524.08,190.74 L524.76,190.61 L525.40,190.59 L526.12,190.31 L526.79,190.32 L527.41,190.22 L528.00,190.36 L528.67,190.28 L529.28,190.39 L530.00,190.18 L530.54,190.15 L531.13,190.11 L531.75,190.20 L532.38,190.06 L533.00,189.89 L533.62,189.86 L534.25,189.80 L534.87,189.71 L535.46,189.76 L536.00,189.81 L536.70,189.89 L537.30,190.21 L538.00,190.83 L538.55,191.07 L539.18,191.39 L539.82,191.82 L540.45,191.84 L541.00,191.81 L541.74,192.05 L542.37,192.06 L543.00,191.83 L543.74,191.86 L544.48,191.68 L545.00,191.23" fill="none" stroke="#F5A262" stroke-width="1.55" stroke-linejoin="round" stroke-linecap="round"/>
<path d="M308.00,182.03 L308.45,181.82 L309.11,181.25 L309.83,180.97 L310.50,180.69 L311.09,180.19 L311.66,179.69 L312.23,179.57 L312.80,179.29 L313.18,178.77 L313.57,178.59 L313.95,178.37 L314.33,177.98 L314.72,177.16 L315.10,176.61 L315.69,175.99 L316.28,175.50 L316.86,175.06 L317.40,174.85 L318.04,174.58 L318.62,174.54 L319.20,174.54 L319.80,174.76 L320.40,174.74 L321.00,175.33 L321.45,175.26 L321.90,175.63 L322.35,175.89 L322.80,176.79 L323.10,177.19 L323.41,178.19 L323.73,178.98 L324.03,179.80 L324.32,180.17 L324.60,180.03 L324.79,179.78 L324.98,179.42 L325.15,178.72 L325.33,178.20 L325.49,177.71 L325.66,176.92 L325.83,176.24 L326.00,175.83 L326.16,175.10 L326.31,174.36 L326.47,173.74 L326.63,172.59 L326.78,171.47 L326.94,170.89 L327.10,170.42 L327.25,169.86 L327.40,169.79 L327.55,170.07 L327.69,170.16 L327.84,170.58 L327.98,171.34 L328.12,171.96 L328.26,172.85 L328.41,173.95 L328.55,174.91 L328.70,175.42 L328.87,176.23 L329.03,176.73 L329.20,177.15 L329.37,177.91 L329.54,178.56 L329.72,179.21 L329.91,179.79 L330.10,180.37 L330.70,180.82 L331.35,180.87 L331.90,180.83 L332.25,180.28 L332.50,179.31 L332.80,178.67 L333.44,179.03 L334.20,179.62 L334.77,179.23 L335.39,179.01 L336.00,179.01 L336.45,179.47 L336.90,179.79 L337.35,180.59 L337.80,180.97 L338.25,181.40 L338.69,181.94 L339.14,182.39 L339.60,182.73 L340.05,183.41 L340.49,183.61 L340.97,184.24 L341.50,184.64 L342.08,185.04 L342.69,185.14 L343.38,185.76 L344.20,185.86 L344.74,186.21 L345.33,186.39 L345.96,186.57 L346.62,186.63 L347.30,186.65 L348.00,186.59 L348.70,186.61 L349.32,186.72 L349.95,186.58 L350.59,186.50 L351.25,186.28 L351.92,186.47 L352.60,186.23 L353.29,185.94 L354.00,185.86 L354.58,186.26 L355.17,186.13 L355.77,186.19 L356.39,186.44 L357.01,186.48 L357.63,185.96 L358.25,185.73 L358.87,185.79 L359.49,185.85 L360.10,185.65 L360.70,185.56 L361.30,185.33 L361.90,185.25 L362.50,185.02 L363.10,185.09 L363.70,185.29 L364.30,185.37 L364.90,185.13 L365.50,185.16 L366.10,185.21 L366.71,185.33 L367.32,185.63 L367.93,185.79 L368.54,185.61 L369.15,185.53 L369.76,185.91 L370.37,185.83 L370.98,186.21 L371.59,186.64 L372.20,187.08 L372.80,187.33 L373.41,187.50 L374.01,187.55 L374.61,187.59 L375.21,187.64 L375.80,187.41 L376.40,187.44 L377.00,187.69 L377.60,187.94 L378.20,187.99 L378.81,187.92 L379.42,187.99 L380.04,187.59 L380.67,187.47 L381.29,187.23 L381.90,187.10 L382.50,187.17 L383.09,187.17 L383.66,186.94 L384.20,187.09 L384.91,187.24 L385.56,186.87 L386.16,186.93 L386.76,186.75 L387.37,186.56 L388.04,186.34 L388.80,186.32 L389.34,186.40 L389.91,186.85 L390.51,187.00 L391.14,187.20 L391.78,187.45 L392.43,187.79 L393.08,187.83 L393.72,187.90 L394.34,188.16 L394.94,188.28 L395.50,188.09 L396.21,187.88 L396.87,188.19 L397.49,188.29 L398.09,188.29 L398.71,188.17 L399.35,188.23 L400.04,187.87 L400.80,187.57 L401.35,187.77 L401.92,187.67 L402.51,187.74 L403.11,187.53 L403.73,187.59 L404.37,187.35 L405.02,187.33 L405.68,187.40 L406.35,187.54 L407.03,187.46 L407.71,187.54 L408.40,187.76 L408.96,187.43 L409.52,187.40 L410.09,187.22 L410.67,187.01 L411.26,186.94 L411.85,186.89 L412.44,186.95 L413.05,187.01 L413.65,186.74 L414.27,186.39 L414.88,186.31 L415.51,186.07 L416.13,185.91 L416.77,186.08 L417.40,186.16 L418.02,186.18 L418.68,186.20 L419.37,186.18 L420.08,186.25 L420.81,186.12 L421.55,186.13 L422.29,186.02 L423.01,185.92 L423.72,185.63 L424.40,185.82 L425.05,185.89 L425.66,185.95 L426.22,185.87 L426.71,185.97 L427.14,185.82 L427.50,185.65" fill="none" stroke="#1A88E4" stroke-width="1.55" stroke-linejoin="round" stroke-linecap="round"/>
<path d="M432.50,186.48 L433.06,186.98 L434.00,186.68 L434.50,186.57 L435.09,186.77 L435.73,186.58 L436.38,185.93 L437.00,185.78 L437.57,185.93 L438.10,185.56 L438.66,185.60 L439.27,185.67 L440.00,185.85 L440.53,185.75 L441.10,185.90 L441.71,185.70 L442.34,185.70 L443.00,185.81 L443.67,185.76 L444.34,185.77 L445.00,185.64 L445.60,185.49 L446.24,185.13 L446.90,185.00 L447.56,185.07 L448.22,185.11 L448.86,185.05 L449.46,185.18 L450.01,185.15 L450.50,184.81 L451.35,184.37 L451.97,183.93 L452.53,183.50 L453.20,183.07 L453.76,182.69 L454.37,182.41 L455.00,182.63 L455.63,182.46 L456.24,182.35 L456.80,182.29 L457.31,182.03 L457.80,181.45 L458.26,181.09 L458.69,180.51 L459.11,180.05 L459.50,179.73 L459.87,179.07 L460.21,178.33 L460.54,177.63 L460.84,177.05 L461.13,176.40 L461.40,176.30 L462.08,176.30 L462.70,177.38 L463.03,177.78 L463.37,178.39 L463.72,178.74 L464.10,179.24 L464.67,178.78 L465.29,178.52 L465.90,178.24 L466.50,177.95 L467.10,177.23 L467.70,176.86 L468.30,176.12 L468.89,175.32 L469.50,174.87 L470.13,174.78 L470.77,174.18 L471.40,174.03 L472.01,174.48 L472.60,174.60 L473.20,174.43 L473.81,174.50 L474.43,174.28 L475.00,173.30 L475.17,173.01 L475.34,172.49 L475.50,171.94 L475.66,170.99 L475.81,170.35 L475.96,169.55 L476.10,168.85 L476.25,168.22 L476.40,167.85 L476.73,167.40 L477.05,166.75 L477.37,166.42 L477.70,166.09 L478.39,166.05 L479.10,165.53 L479.57,164.74 L480.04,163.68 L480.50,163.54 L480.65,163.77 L480.79,164.39 L480.94,165.24 L481.08,165.93 L481.22,166.54 L481.36,167.49 L481.51,168.10 L481.65,168.46 L481.80,169.24 L482.41,169.93 L483.20,169.56 L483.78,169.70 L484.47,169.63 L485.19,169.16 L485.90,169.29 L486.58,169.24 L487.27,169.38 L487.95,169.53 L488.60,170.06 L489.21,170.17 L489.81,170.58 L490.37,170.57 L490.90,170.94 L491.39,171.10 L491.83,171.75 L492.26,172.41 L492.70,172.65 L493.27,172.39 L493.85,171.65 L494.50,171.36 L495.09,171.11 L495.74,171.19 L496.39,171.18 L497.00,171.28 L497.44,170.75 L497.86,170.36 L498.26,169.78 L498.64,169.22 L499.00,168.60 L499.41,167.70 L499.78,167.05 L500.14,166.39 L500.50,166.19 L500.73,166.59 L500.94,167.42 L501.16,168.13 L501.39,169.28 L501.66,170.25 L502.00,170.70 L502.51,170.72 L503.12,170.65 L503.76,169.99 L504.41,169.37 L505.00,169.02 L505.66,168.76 L506.28,168.26 L506.89,168.09 L507.50,168.00 L508.12,167.32 L508.75,167.23 L509.38,167.07 L510.00,166.74 L510.51,166.27 L511.02,166.00 L511.54,165.52 L512.03,165.32 L512.50,164.84 L513.20,164.43 L513.85,164.13 L514.50,163.68 L515.15,163.16 L515.80,163.29 L516.50,163.02 L517.11,162.87 L517.78,163.12 L518.43,163.18 L519.00,163.25 L519.81,163.34 L520.50,163.36 L521.22,162.64 L522.00,162.06 L522.48,161.75 L523.01,161.46 L523.53,160.88 L524.00,160.68 L524.66,160.20 L525.40,159.86 L525.98,159.63 L526.66,159.64 L527.36,159.51 L528.00,159.59 L528.67,159.40 L529.28,159.20 L530.00,159.22 L530.54,159.24 L531.13,159.37 L531.75,159.51 L532.38,159.59 L533.00,159.70 L533.62,159.83 L534.25,159.65 L534.87,159.51 L535.46,159.49 L536.00,159.48 L536.55,159.94 L537.00,160.73 L537.45,161.38 L538.00,162.19 L538.45,162.75 L538.96,163.21 L539.50,163.51 L540.04,164.12 L540.55,164.54 L541.00,164.69 L541.74,165.05 L542.37,164.98 L543.00,165.05 L543.74,165.23 L544.48,165.51 L545.00,165.50" fill="none" stroke="#1A88E4" stroke-width="1.55" stroke-linejoin="round" stroke-linecap="round"/>
<path d="M308.00,160.52 L308.34,160.34 L308.83,159.69 L309.39,159.02 L309.97,158.56 L310.50,158.08 L311.09,157.58 L311.66,157.52 L312.23,157.15 L312.80,156.73 L313.13,156.39 L313.46,156.00 L313.79,155.39 L314.11,154.92 L314.44,154.31 L314.77,153.63 L315.10,152.87 L315.69,152.15 L316.28,151.70 L316.86,151.21 L317.40,150.76 L318.04,150.45 L318.62,150.12 L319.20,150.06 L319.65,150.37 L320.10,150.95 L320.55,151.65 L321.00,152.26 L321.45,152.79 L321.90,153.15 L322.35,153.36 L322.80,153.92 L323.06,154.58 L323.33,155.28 L323.59,156.22 L323.86,157.26 L324.11,158.10 L324.36,158.40 L324.60,158.55 L324.76,158.57 L324.91,158.43 L325.05,158.10 L325.19,157.55 L325.33,156.94 L325.46,156.13 L325.59,155.20 L325.73,154.13 L325.86,153.30 L326.00,152.32 L326.11,151.68 L326.22,150.98 L326.33,150.44 L326.43,149.64 L326.54,148.90 L326.65,148.08 L326.76,147.34 L326.87,146.43 L326.98,145.79 L327.08,145.13 L327.19,144.38 L327.30,143.97 L327.40,143.99 L327.53,144.17 L327.66,144.65 L327.79,145.38 L327.92,146.17 L328.05,146.79 L328.18,147.40 L328.31,148.14 L328.44,148.93 L328.57,149.86 L328.70,150.35 L328.85,151.33 L329.00,152.06 L329.16,153.19 L329.32,153.72 L329.47,154.52 L329.63,155.16 L329.79,155.89 L329.94,156.17 L330.10,156.46 L330.81,157.55 L331.50,157.53 L331.83,156.94 L332.15,155.98 L332.47,155.14 L332.80,154.52 L333.47,153.99 L334.20,153.87 L334.77,153.39 L335.39,153.28 L336.00,153.19 L336.45,153.50 L336.90,154.28 L337.35,155.02 L337.80,155.57 L338.25,155.91 L338.69,156.64 L339.14,156.98 L339.60,157.77 L340.05,158.12 L340.49,158.77 L340.97,159.21 L341.50,159.57 L341.96,159.78 L342.44,160.06 L342.95,160.43 L343.53,160.50 L344.20,160.80 L344.74,160.89 L345.33,161.22 L345.96,161.07 L346.62,161.19 L347.30,161.25 L348.00,161.25 L348.70,161.07 L349.32,161.22 L349.95,161.29 L350.59,161.19 L351.25,161.31 L351.92,161.30 L352.60,161.36 L353.29,161.64 L354.00,161.75 L354.58,161.74 L355.17,161.90 L355.77,162.06 L356.39,161.77 L357.01,161.71 L357.63,161.57 L358.25,161.65 L358.87,161.58 L359.49,161.78 L360.10,161.92 L360.71,162.16 L361.33,161.94 L361.95,161.97 L362.57,161.73 L363.19,161.61 L363.81,161.45 L364.41,161.71 L364.99,161.40 L365.56,161.25 L366.10,161.26 L366.74,161.23 L367.35,161.22 L367.93,161.62 L368.49,162.04 L369.04,162.50 L369.59,163.09 L370.14,163.37 L370.70,163.46 L371.26,163.48 L371.80,163.77 L372.33,163.83 L372.86,164.12 L373.41,164.60 L373.97,165.19 L374.57,165.20 L375.20,165.37 L375.75,165.55 L376.34,165.61 L376.96,165.82 L377.60,166.05 L378.24,166.01 L378.89,166.22 L379.51,166.10 L380.12,165.89 L380.68,166.02 L381.20,166.15 L381.96,166.24 L382.63,166.30 L383.24,166.27 L383.81,165.96 L384.39,166.18 L385.00,165.87 L385.61,165.78 L386.19,165.95 L386.76,165.94 L387.37,165.76 L388.04,165.89 L388.80,166.13 L389.32,165.95 L389.88,166.43 L390.49,166.79 L391.11,166.75 L391.76,166.88 L392.40,167.01 L393.04,166.86 L393.66,166.86 L394.25,167.03 L394.80,166.99 L395.51,167.05 L396.15,166.88 L396.75,166.78 L397.34,166.53 L397.94,166.55 L398.59,166.34 L399.30,166.30 L399.84,166.26 L400.40,166.31 L400.97,166.01 L401.56,165.94 L402.16,166.00 L402.78,165.98 L403.42,165.97 L404.06,165.92 L404.73,165.77 L405.40,165.54 L405.98,165.22 L406.57,165.08 L407.18,164.96 L407.80,165.15 L408.43,165.01 L409.06,164.83 L409.70,164.76 L410.35,164.80 L410.99,164.51 L411.63,164.65 L412.27,164.49 L412.90,164.55 L413.53,164.70 L414.15,164.93 L414.78,164.79 L415.41,165.16 L416.05,164.94 L416.68,164.81 L417.30,164.53 L417.93,164.52 L418.55,164.32 L419.17,164.08 L419.79,163.86 L420.40,164.06 L421.09,163.64 L421.81,163.58 L422.56,163.84 L423.31,163.86 L424.05,163.62 L424.78,164.09 L425.46,164.03 L426.09,163.65 L426.65,163.45 L427.12,163.36 L427.50,163.00" fill="none" stroke="#F76C1C" stroke-width="1.55" stroke-linejoin="round" stroke-linecap="round"/>
<path d="M432.50,164.08 L433.06,164.07 L434.00,164.22 L434.50,163.84 L435.09,163.89 L435.73,163.97 L436.38,163.96 L437.00,163.67 L437.57,163.94 L438.10,163.75 L438.66,163.57 L439.27,163.31 L440.00,163.29 L440.53,163.11 L441.10,162.99 L441.71,162.84 L442.34,162.71 L443.00,162.60 L443.67,162.60 L444.34,162.36 L445.00,162.28 L445.60,162.13 L446.24,162.10 L446.90,162.03 L447.56,162.27 L448.22,162.06 L448.86,162.15 L449.46,161.71 L450.01,161.39 L450.50,160.99 L451.20,160.83 L451.74,160.59 L452.19,160.39 L452.65,160.34 L453.20,160.18 L453.76,159.78 L454.37,159.41 L455.00,159.09 L455.63,158.91 L456.24,158.44 L456.80,158.31 L457.31,158.06 L457.80,157.71 L458.26,156.99 L458.69,156.62 L459.11,155.94 L459.50,155.21 L459.94,154.50 L460.35,153.89 L460.72,153.20 L461.07,152.97 L461.40,152.64 L461.89,153.05 L462.32,153.62 L462.70,154.55 L462.93,155.13 L463.11,156.20 L463.31,157.01 L463.60,157.37 L463.92,156.93 L464.29,156.18 L464.70,155.37 L465.11,154.46 L465.50,153.93 L465.87,153.53 L466.23,152.97 L466.58,152.34 L466.94,151.78 L467.30,151.34 L467.90,151.29 L468.50,151.82 L469.10,152.00 L469.54,151.62 L469.97,150.90 L470.41,150.21 L470.90,149.64 L471.65,149.78 L472.45,150.18 L473.20,150.48 L473.85,150.37 L474.45,150.18 L475.00,149.29 L475.17,148.67 L475.34,148.01 L475.50,147.45 L475.66,146.74 L475.81,146.30 L475.96,145.58 L476.10,144.90 L476.25,144.21 L476.40,143.93 L476.59,143.33 L476.78,142.71 L476.96,142.01 L477.14,141.33 L477.32,140.56 L477.51,139.76 L477.70,139.67 L478.39,139.17 L479.10,139.21 L479.57,138.48 L480.04,137.78 L480.50,137.44 L480.65,137.99 L480.79,138.40 L480.94,139.42 L481.08,140.15 L481.22,140.80 L481.36,141.60 L481.51,142.40 L481.65,142.63 L481.80,143.13 L482.41,144.27 L483.20,144.39 L483.78,144.17 L484.47,143.98 L485.19,143.51 L485.90,143.39 L486.57,143.37 L487.24,143.60 L487.92,143.75 L488.60,144.13 L489.17,144.49 L489.76,144.82 L490.35,145.54 L490.90,146.16 L491.40,146.27 L492.09,146.63 L492.67,146.84 L493.20,146.61 L493.81,145.97 L494.50,145.75 L495.05,145.32 L495.71,145.13 L496.38,144.75 L497.00,144.63 L497.37,144.14 L497.72,143.53 L498.06,142.88 L498.39,142.37 L498.70,141.48 L499.00,140.74 L499.33,140.12 L499.64,139.53 L499.92,138.74 L500.21,138.44 L500.50,138.56 L500.84,138.90 L501.16,139.73 L501.52,140.63 L502.00,140.90 L502.51,140.67 L503.12,140.56 L503.76,140.26 L504.41,140.10 L505.00,140.05 L505.53,139.76 L506.04,139.36 L506.52,138.92 L507.01,138.58 L507.50,138.05 L508.00,137.61 L508.50,137.03 L509.00,136.49 L509.50,135.83 L510.00,135.15 L510.42,134.83 L510.85,134.48 L511.28,133.88 L511.70,133.22 L512.11,132.83 L512.50,132.37 L513.04,131.82 L513.53,131.23 L514.01,130.95 L514.50,130.89 L514.99,131.14 L515.47,131.50 L515.96,132.38 L516.50,132.87 L517.11,133.16 L517.78,133.16 L518.43,133.38 L519.00,133.13 L519.57,132.89 L520.04,132.35 L520.50,132.05 L520.98,131.90 L521.46,131.54 L522.00,130.86 L522.48,130.54 L523.01,129.65 L523.53,128.80 L524.00,128.27 L524.66,127.59 L525.40,127.02 L525.98,127.01 L526.66,127.21 L527.36,127.13 L528.00,127.10 L528.67,126.86 L529.28,126.77 L530.00,126.75 L530.54,127.08 L531.13,127.28 L531.75,127.73 L532.38,128.14 L533.00,128.16 L533.62,128.17 L534.25,128.28 L534.87,128.49 L535.46,128.56 L536.00,129.07 L536.29,129.52 L536.55,130.10 L536.78,130.47 L537.00,131.25 L537.22,131.72 L537.45,132.26 L537.71,132.51 L538.00,133.04 L538.33,133.76 L538.70,134.52 L539.10,135.17 L539.50,136.04 L539.90,136.65 L540.30,136.75 L540.67,137.12 L541.00,137.49 L541.74,138.15 L542.37,138.37 L543.00,138.81 L543.74,139.19 L544.48,139.53 L545.00,139.67" fill="none" stroke="#F76C1C" stroke-width="1.55" stroke-linejoin="round" stroke-linecap="round"/>
<path d="M308.00,139.05 L308.34,138.96 L308.83,138.66 L309.39,138.29 L309.97,137.78 L310.50,137.34 L311.09,136.68 L311.66,136.20 L312.23,136.03 L312.80,135.71 L313.13,135.39 L313.46,135.05 L313.79,134.56 L314.11,133.85 L314.44,133.15 L314.77,132.64 L315.10,132.11 L315.57,131.55 L316.04,130.94 L316.52,130.61 L316.97,130.00 L317.40,129.90 L318.04,129.38 L318.62,129.01 L319.20,128.84 L319.65,129.24 L320.10,129.49 L320.55,130.10 L321.00,130.67 L321.36,130.95 L321.72,131.53 L322.08,132.11 L322.44,132.86 L322.80,133.63 L323.06,134.19 L323.33,135.02 L323.59,135.77 L323.86,136.42 L324.11,137.27 L324.36,138.01 L324.60,137.75 L324.74,137.61 L324.88,137.00 L325.01,136.33 L325.14,135.68 L325.26,135.02 L325.39,134.35 L325.51,133.88 L325.63,133.12 L325.75,132.20 L325.87,131.49 L326.00,130.62 L326.11,129.75 L326.22,129.02 L326.33,128.38 L326.43,127.86 L326.54,127.26 L326.65,126.62 L326.76,125.68 L326.87,125.17 L326.98,124.42 L327.08,123.86 L327.19,123.36 L327.30,123.11 L327.40,122.85 L327.53,122.76 L327.66,123.10 L327.79,123.75 L327.92,124.44 L328.05,124.90 L328.18,125.85 L328.31,126.76 L328.44,127.39 L328.57,128.03 L328.70,129.00 L328.84,129.58 L328.97,129.99 L329.11,130.90 L329.25,131.68 L329.39,132.27 L329.54,132.84 L329.68,133.43 L329.82,133.85 L329.96,134.26 L330.10,134.38 L330.81,135.30 L331.50,135.50 L331.94,135.17 L332.36,134.79 L332.80,134.49 L333.47,134.26 L334.20,133.72 L334.77,132.96 L335.39,132.12 L336.00,131.71 L336.36,131.91 L336.72,132.37 L337.08,133.13 L337.44,133.66 L337.80,134.35 L338.25,134.96 L338.69,135.52 L339.14,135.93 L339.60,136.63 L339.96,137.26 L340.31,137.68 L340.68,138.12 L341.07,138.54 L341.50,138.81 L341.96,139.22 L342.44,139.57 L342.95,140.06 L343.53,140.62 L344.20,141.03 L344.74,141.09 L345.33,141.14 L345.96,140.98 L346.62,140.98 L347.30,140.99 L348.00,141.04 L348.70,141.02 L349.32,141.22 L349.95,141.40 L350.59,141.33 L351.25,141.28 L351.92,141.56 L352.60,141.56 L353.29,141.34 L354.00,141.20 L354.58,141.30 L355.17,141.12 L355.77,141.33 L356.39,141.34 L357.01,141.58 L357.63,141.57 L358.25,141.62 L358.87,141.42 L359.49,141.61 L360.10,141.76 L360.71,141.68 L361.33,141.74 L361.95,141.80 L362.57,141.59 L363.19,141.38 L363.81,141.27 L364.41,141.15 L364.99,141.07 L365.56,141.04 L366.10,141.00 L366.74,141.10 L367.35,141.28 L367.93,141.33 L368.49,141.54 L369.04,141.98 L369.59,142.29 L370.14,142.50 L370.70,142.87 L371.26,143.09 L371.80,143.41 L372.33,143.65 L372.86,143.79 L373.41,143.95 L373.97,144.32 L374.57,144.48 L375.20,144.67 L375.75,144.86 L376.34,145.11 L376.96,145.10 L377.60,145.10 L378.24,145.24 L378.89,145.38 L379.51,145.49 L380.12,145.54 L380.68,145.60 L381.20,145.58 L381.96,145.80 L382.63,145.82 L383.24,145.84 L383.81,145.64 L384.39,145.53 L385.00,145.42 L385.61,145.36 L386.19,145.15 L386.76,145.35 L387.37,145.41 L388.04,145.55 L388.80,145.68 L389.32,145.91 L389.88,146.28 L390.49,146.47 L391.11,146.80 L391.76,146.84 L392.40,147.01 L393.04,147.09 L393.66,147.14 L394.25,146.86 L394.80,147.07 L395.51,147.04 L396.15,146.77 L396.75,146.54 L397.34,146.63 L397.94,146.38 L398.59,146.24 L399.30,146.11 L399.84,146.09 L400.40,145.73 L400.97,145.33 L401.56,145.23 L402.16,145.19 L402.78,145.25 L403.42,145.31 L404.06,145.47 L404.73,145.22 L405.40,144.84 L405.98,144.73 L406.57,144.56 L407.18,144.52 L407.80,144.52 L408.43,144.48 L409.06,144.38 L409.70,144.22 L410.35,143.84 L410.99,143.73 L411.63,143.66 L412.27,143.41 L412.90,143.35 L413.53,143.59 L414.15,143.87 L414.78,144.12 L415.41,144.15 L416.05,144.30 L416.68,144.13 L417.30,143.86 L417.93,143.54 L418.55,143.53 L419.17,143.16 L419.79,143.33 L420.40,143.15 L421.09,143.24 L421.81,143.13 L422.56,143.30 L423.31,142.91 L424.05,142.90 L424.78,142.88 L425.46,142.97 L426.09,142.68 L426.65,142.87 L427.12,142.90 L427.50,142.72" fill="none" stroke="#70AE28" stroke-width="1.55" stroke-linejoin="round" stroke-linecap="round"/>
<path d="M432.50,143.11 L433.06,143.02 L434.00,142.94 L434.50,142.98 L435.09,142.90 L435.73,142.84 L436.38,142.96 L437.00,142.92 L437.57,143.09 L438.10,142.84 L438.66,142.85 L439.27,142.56 L440.00,142.48 L440.53,142.15 L441.12,142.18 L441.75,141.77 L442.41,141.74 L443.07,141.78 L443.74,141.69 L444.39,141.54 L445.00,141.50 L445.68,141.35 L446.35,140.87 L447.01,140.61 L447.65,140.40 L448.29,140.30 L448.90,140.09 L449.50,139.77 L450.16,139.45 L450.80,139.19 L451.41,138.91 L452.00,138.68 L452.60,138.55 L453.20,138.64 L453.82,138.40 L454.46,138.24 L455.09,138.07 L455.70,138.05 L456.28,137.58 L456.80,137.41 L457.49,136.66 L458.09,135.86 L458.62,135.14 L459.10,134.70 L459.52,134.21 L459.86,133.77 L460.18,133.50 L460.50,133.08 L460.94,132.39 L461.36,131.34 L461.80,130.98 L462.15,131.05 L462.52,131.50 L462.88,132.26 L463.20,132.97 L463.52,133.70 L463.78,134.43 L464.10,134.85 L464.41,134.26 L464.74,133.76 L465.11,133.13 L465.50,132.43 L465.93,131.53 L466.41,130.98 L466.88,130.32 L467.30,130.10 L467.94,129.79 L468.60,129.74 L469.16,129.61 L469.79,129.42 L470.50,128.84 L471.14,128.91 L471.86,129.03 L472.57,128.91 L473.20,128.68 L473.88,128.58 L474.46,128.07 L475.00,127.36 L475.17,126.97 L475.34,126.44 L475.50,125.96 L475.66,125.94 L475.81,125.09 L475.96,124.16 L476.10,123.67 L476.25,122.97 L476.40,121.94 L476.58,121.42 L476.75,120.89 L476.91,120.23 L477.08,119.66 L477.26,119.20 L477.46,118.55 L477.70,117.78 L478.11,117.09 L478.59,116.12 L479.10,115.52 L479.58,115.18 L480.00,115.25 L480.24,115.38 L480.45,116.20 L480.64,116.65 L480.82,117.39 L481.00,118.22 L481.19,118.78 L481.40,119.11 L481.94,120.14 L482.52,120.66 L483.20,120.94 L483.81,120.93 L484.49,120.68 L485.20,120.24 L485.90,120.06 L486.44,120.00 L486.98,120.39 L487.51,120.63 L488.05,120.65 L488.60,120.99 L489.32,121.31 L490.06,121.40 L490.77,121.70 L491.40,122.15 L492.09,122.55 L492.67,123.09 L493.20,123.32 L493.81,123.11 L494.50,122.56 L494.85,122.04 L495.26,121.67 L495.71,121.39 L496.16,121.12 L496.60,120.70 L497.00,120.17 L497.37,119.81 L497.72,119.26 L498.06,118.89 L498.39,118.07 L498.70,117.72 L499.00,117.06 L499.33,116.39 L499.64,115.25 L499.92,114.72 L500.21,114.43 L500.50,114.34 L500.78,114.20 L501.03,114.90 L501.29,115.82 L501.60,116.16 L502.00,116.53 L502.51,116.90 L503.12,116.72 L503.76,116.37 L504.41,116.38 L505.00,116.24 L505.53,115.92 L506.04,115.90 L506.52,115.54 L507.01,115.05 L507.50,114.51 L508.00,114.03 L508.50,113.53 L509.00,113.12 L509.50,112.29 L510.00,111.63 L510.36,111.22 L510.73,110.54 L511.10,109.90 L511.46,109.55 L511.82,108.80 L512.17,108.48 L512.50,108.14 L513.04,107.59 L513.53,107.04 L514.01,106.89 L514.50,106.59 L514.99,106.68 L515.47,107.02 L515.96,107.69 L516.50,108.30 L517.11,108.71 L517.78,109.35 L518.43,109.59 L519.00,109.64 L519.57,109.30 L520.04,109.04 L520.50,108.58 L520.86,108.28 L521.22,107.93 L521.59,107.47 L522.00,106.68 L522.38,106.02 L522.79,105.45 L523.22,105.04 L523.63,104.68 L524.00,104.55 L524.66,103.95 L525.40,103.45 L525.98,103.33 L526.66,103.33 L527.36,103.00 L528.00,103.06 L528.67,103.54 L529.28,103.73 L530.00,103.73 L530.54,104.20 L531.13,104.34 L531.75,104.33 L532.38,104.23 L533.00,104.54 L533.62,104.58 L534.25,104.64 L534.87,104.65 L535.46,104.68 L536.00,105.10 L536.33,105.55 L536.62,105.87 L536.87,106.45 L537.13,107.29 L537.38,107.54 L537.67,108.08 L538.00,109.03 L538.29,109.55 L538.62,109.89 L538.96,110.88 L539.32,111.38 L539.68,111.67 L540.04,112.12 L540.38,112.72 L540.71,112.71 L541.00,112.94 L541.57,113.38 L542.06,113.96 L542.52,114.25 L543.00,114.91 L543.74,115.31 L544.48,115.91 L545.00,116.02" fill="none" stroke="#70AE28" stroke-width="1.55" stroke-linejoin="round" stroke-linecap="round"/>
<path d="M308.00,117.01 L308.34,116.37 L308.83,115.80 L309.39,115.24 L309.97,114.50 L310.50,114.31 L311.09,114.42 L311.66,114.59 L312.23,114.57 L312.80,114.10 L313.13,113.46 L313.46,112.59 L313.79,111.95 L314.11,111.36 L314.44,110.77 L314.77,110.09 L315.10,109.78 L315.49,109.10 L315.89,108.41 L316.28,107.73 L316.67,107.36 L317.05,106.74 L317.40,106.34 L317.89,105.73 L318.33,105.28 L318.76,104.75 L319.20,104.84 L319.65,105.11 L320.10,105.78 L320.55,106.56 L321.00,107.39 L321.36,107.74 L321.72,107.99 L322.08,108.13 L322.44,108.50 L322.80,109.17 L323.03,109.80 L323.26,110.68 L323.49,111.71 L323.73,112.85 L323.95,113.48 L324.18,113.78 L324.39,113.98 L324.60,114.04 L324.77,113.76 L324.94,113.55 L325.10,113.24 L325.25,112.89 L325.40,112.19 L325.55,111.23 L325.70,110.25 L325.85,109.50 L326.00,108.67 L326.09,107.99 L326.19,107.32 L326.28,106.68 L326.38,106.09 L326.47,105.06 L326.56,104.24 L326.66,103.61 L326.75,102.87 L326.85,101.80 L326.94,101.23 L327.03,100.80 L327.13,100.00 L327.22,99.50 L327.31,99.31 L327.40,99.23 L327.55,99.28 L327.69,99.75 L327.84,100.11 L327.98,100.90 L328.12,101.72 L328.26,102.42 L328.41,103.48 L328.55,104.64 L328.70,105.24 L328.82,105.48 L328.95,106.15 L329.07,106.62 L329.20,107.10 L329.33,107.81 L329.46,108.64 L329.59,109.41 L329.72,110.34 L329.84,110.87 L329.97,111.51 L330.10,111.99 L330.57,113.00 L331.04,113.14 L331.50,113.46 L331.94,112.85 L332.36,112.23 L332.80,111.45 L333.47,111.24 L334.20,110.84 L334.62,110.59 L335.07,109.68 L335.54,109.08 L336.00,109.05 L336.36,109.36 L336.72,109.96 L337.08,110.69 L337.44,111.55 L337.80,112.01 L338.26,112.68 L338.73,112.92 L339.18,113.40 L339.60,113.90 L340.06,114.42 L340.48,114.75 L341.00,115.52 L341.38,115.83 L341.79,116.17 L342.24,116.89 L342.74,117.43 L343.30,117.72 L343.82,118.26 L344.39,118.74 L344.99,118.82 L345.61,118.92 L346.26,119.03 L346.90,119.24 L347.53,119.20 L348.16,119.15 L348.79,119.42 L349.47,119.67 L350.20,119.84 L351.00,119.78 L351.53,119.81 L352.09,119.67 L352.69,119.62 L353.30,119.35 L353.93,119.64 L354.57,119.44 L355.21,119.67 L355.85,119.57 L356.49,119.61 L357.10,119.56 L357.71,119.89 L358.34,119.64 L358.97,119.87 L359.61,119.93 L360.24,119.78 L360.86,119.74 L361.46,119.69 L362.04,119.33 L362.59,119.19 L363.10,119.26 L363.86,119.17 L364.51,119.08 L365.10,118.94 L365.68,118.69 L366.30,118.83 L367.00,118.98 L367.52,119.15 L368.05,119.68 L368.61,120.23 L369.18,120.32 L369.76,120.54 L370.36,121.12 L370.97,121.35 L371.58,121.78 L372.20,122.13 L372.77,122.34 L373.35,122.34 L373.94,122.40 L374.54,122.42 L375.15,122.57 L375.76,122.86 L376.37,123.13 L376.99,123.23 L377.60,123.30 L378.20,123.27 L378.80,123.35 L379.40,123.23 L380.00,123.34 L380.60,123.32 L381.19,123.40 L381.79,123.35 L382.39,123.71 L382.99,123.78 L383.60,123.74 L384.20,123.82 L384.81,123.97 L385.44,123.89 L386.07,123.98 L386.71,124.40 L387.34,124.59 L387.97,124.54 L388.58,124.65 L389.18,124.49 L389.75,124.28 L390.30,124.08 L391.03,124.15 L391.70,124.28 L392.34,124.47 L392.96,124.76 L393.56,124.81 L394.17,124.98 L394.80,124.57 L395.43,124.45 L396.04,124.26 L396.64,124.21 L397.26,123.88 L397.90,123.88 L398.57,123.81 L399.30,123.51 L399.85,123.29 L400.42,123.13 L401.02,123.03 L401.63,122.79 L402.26,122.75 L402.89,122.96 L403.53,122.69 L404.16,122.51 L404.79,122.47 L405.40,122.32 L406.00,122.03 L406.61,122.04 L407.21,122.00 L407.81,121.94 L408.41,121.83 L409.00,121.91 L409.60,121.92 L410.20,121.67 L410.80,121.41 L411.40,121.41 L412.00,121.12 L412.60,120.96 L413.20,120.91 L413.80,121.00 L414.39,120.86 L414.99,120.76 L415.59,120.74 L416.19,120.94 L416.80,121.02 L417.40,121.04 L418.02,121.04 L418.65,120.87 L419.29,120.81 L419.93,120.84 L420.58,120.87 L421.21,120.98 L421.82,121.12 L422.41,121.02 L422.97,120.80 L423.50,120.75 L424.33,120.51 L425.14,120.65 L425.88,120.62 L426.54,120.51 L427.09,120.38 L427.50,120.50" fill="none" stroke="#F068EE" stroke-width="1.55" stroke-linejoin="round" stroke-linecap="round"/>
<path d="M432.50,119.05 L433.06,119.05 L434.00,119.28 L434.50,119.10 L435.09,119.30 L435.73,119.28 L436.38,119.17 L437.00,118.86 L437.57,118.64 L438.10,118.57 L438.66,118.71 L439.27,118.70 L440.00,118.53 L440.54,118.72 L441.14,118.63 L441.79,118.30 L442.46,118.22 L443.14,118.21 L443.80,118.07 L444.43,117.94 L445.00,117.92 L445.68,117.79 L446.30,117.38 L446.88,117.10 L447.44,116.73 L448.01,116.55 L448.60,116.24 L449.21,115.92 L449.83,115.58 L450.45,115.61 L451.07,115.26 L451.69,114.83 L452.30,114.66 L452.92,114.57 L453.54,114.27 L454.16,114.16 L454.77,114.01 L455.35,113.80 L455.90,113.70 L456.52,113.01 L457.11,112.57 L457.66,112.18 L458.16,111.74 L458.60,111.17 L458.96,110.81 L459.25,109.96 L459.50,109.18 L459.74,108.62 L460.00,108.04 L460.47,107.33 L460.94,106.41 L461.40,106.47 L461.73,106.80 L462.05,107.48 L462.37,108.12 L462.70,109.12 L463.04,109.76 L463.39,110.59 L463.75,111.05 L464.10,111.23 L464.45,110.93 L464.81,110.12 L465.16,109.05 L465.50,108.21 L465.83,107.62 L466.15,106.99 L466.47,106.49 L466.80,106.23 L467.26,106.80 L467.74,107.39 L468.20,107.39 L468.50,107.21 L468.76,106.53 L469.07,105.99 L469.50,105.59 L470.11,105.52 L470.84,104.94 L471.61,104.97 L472.30,104.83 L473.09,105.05 L473.81,105.32 L474.50,105.08 L474.76,104.77 L475.02,104.12 L475.28,103.47 L475.53,102.83 L475.77,102.42 L476.00,101.62 L476.21,100.93 L476.40,100.43 L476.56,99.66 L476.70,99.07 L476.81,98.85 L476.91,98.32 L477.01,97.33 L477.10,97.02 L477.19,96.12 L477.30,95.38 L477.50,94.47 L477.69,94.19 L477.91,93.66 L478.20,93.29 L478.51,92.76 L478.87,92.06 L479.27,91.05 L479.65,90.25 L480.00,90.44 L480.17,90.43 L480.33,90.81 L480.48,91.45 L480.63,92.21 L480.77,92.50 L480.92,93.28 L481.07,93.93 L481.23,94.68 L481.40,95.14 L481.94,96.01 L482.52,96.35 L483.20,96.54 L483.81,96.37 L484.49,96.20 L485.20,96.01 L485.90,96.03 L486.57,96.14 L487.24,96.55 L487.92,96.71 L488.60,96.89 L489.30,96.80 L490.00,96.72 L490.70,96.18 L491.40,95.96 L492.08,95.86 L492.74,95.55 L493.41,95.54 L494.10,95.64 L494.68,95.52 L495.29,95.72 L495.90,95.84 L496.47,95.56 L497.00,95.16 L497.34,94.85 L497.65,93.82 L497.95,93.32 L498.23,92.57 L498.49,91.67 L498.75,90.99 L499.00,90.68 L499.28,89.92 L499.54,89.11 L499.78,88.40 L500.02,87.77 L500.26,87.02 L500.50,86.55 L500.94,86.84 L501.39,87.54 L502.00,87.87 L502.42,87.52 L502.91,87.05 L503.44,86.33 L503.98,85.96 L504.51,85.50 L505.00,85.32 L505.66,85.09 L506.28,84.89 L506.89,84.54 L507.50,84.14 L508.00,83.79 L508.50,83.35 L509.00,83.11 L509.50,82.69 L510.00,82.38 L510.51,81.85 L511.02,81.36 L511.54,80.57 L512.03,80.13 L512.50,79.77 L513.04,79.42 L513.53,79.07 L514.01,78.70 L514.50,78.48 L514.99,78.54 L515.47,79.05 L515.96,79.53 L516.50,79.94 L517.11,80.45 L517.78,80.71 L518.43,80.87 L519.00,80.93 L519.57,80.94 L520.04,80.31 L520.50,79.72 L520.86,79.11 L521.22,78.39 L521.59,77.87 L522.00,77.69 L522.48,77.21 L523.01,76.76 L523.53,76.28 L524.00,75.65 L524.47,74.99 L524.87,74.59 L525.40,74.39 L525.98,74.35 L526.66,74.66 L527.36,74.62 L528.00,74.84 L528.67,74.93 L529.28,75.32 L530.00,75.33 L530.54,75.62 L531.13,75.71 L531.75,75.87 L532.38,76.07 L533.00,76.30 L533.62,76.24 L534.25,76.35 L534.87,76.35 L535.46,76.23 L536.00,76.42 L536.55,76.91 L537.00,77.49 L537.45,77.91 L538.00,78.49 L538.45,79.00 L538.96,79.35 L539.50,79.60 L540.04,80.41 L540.55,80.73 L541.00,81.06 L541.39,81.65 L541.74,82.04 L542.06,82.18 L542.37,82.72 L542.68,83.24 L543.00,83.66 L543.43,84.53 L543.90,85.49 L544.34,86.00 L544.73,86.52 L545.00,86.92" fill="none" stroke="#F068EE" stroke-width="1.55" stroke-linejoin="round" stroke-linecap="round"/>
<path d="M308.00,91.99 L308.45,91.52 L309.11,90.95 L309.83,90.38 L310.50,90.00 L311.09,89.48 L311.66,89.30 L312.23,89.01 L312.80,88.37 L313.18,87.63 L313.57,87.26 L313.95,86.35 L314.33,85.65 L314.72,85.11 L315.10,84.56 L315.49,83.69 L315.89,83.25 L316.28,82.94 L316.67,82.37 L317.05,81.88 L317.40,81.52 L318.04,80.98 L318.62,80.20 L319.20,80.12 L319.65,80.27 L320.10,80.89 L320.55,81.51 L321.00,82.38 L321.45,82.79 L321.90,83.72 L322.35,84.28 L322.80,84.86 L323.06,85.20 L323.33,86.04 L323.59,86.45 L323.86,87.22 L324.11,87.84 L324.36,88.24 L324.60,88.45 L324.79,88.44 L324.98,87.91 L325.15,87.41 L325.33,86.77 L325.49,86.10 L325.66,85.36 L325.83,84.48 L326.00,83.63 L326.10,83.30 L326.20,82.48 L326.30,81.86 L326.40,81.25 L326.50,80.54 L326.61,79.34 L326.71,78.69 L326.81,77.76 L326.91,77.05 L327.01,76.38 L327.11,76.12 L327.21,75.50 L327.30,75.23 L327.40,74.97 L327.55,74.78 L327.69,74.88 L327.84,75.48 L327.98,76.11 L328.12,76.65 L328.26,77.39 L328.41,78.47 L328.55,79.22 L328.70,80.15 L328.89,80.97 L329.09,81.95 L329.29,82.53 L329.49,83.31 L329.70,83.79 L329.90,84.67 L330.10,84.93 L330.81,84.86 L331.50,84.04 L331.94,84.42 L332.36,85.07 L332.80,85.73 L333.26,85.27 L333.74,85.01 L334.20,84.45 L334.82,83.72 L335.50,83.42 L335.84,83.71 L336.22,84.18 L336.62,84.88 L337.02,85.58 L337.40,86.37 L337.87,86.87 L338.34,87.15 L338.79,87.52 L339.20,88.08 L339.48,88.39 L339.73,89.22 L339.96,89.96 L340.21,90.41 L340.50,90.86 L340.83,91.24 L341.18,91.69 L341.55,92.16 L341.96,92.98 L342.40,93.57 L342.87,94.24 L343.38,94.82 L343.92,95.31 L344.49,95.41 L345.10,95.59 L345.66,95.82 L346.28,96.02 L346.92,96.05 L347.56,96.27 L348.16,96.46 L348.70,96.58 L349.42,96.41 L350.00,96.43 L351.00,96.40 L351.46,96.32 L351.98,96.17 L352.55,96.29 L353.17,96.23 L353.82,96.39 L354.48,96.54 L355.16,96.78 L355.83,96.42 L356.48,96.39 L357.10,96.19 L357.71,96.12 L358.33,96.08 L358.95,96.65 L359.58,96.90 L360.20,97.16 L360.81,97.18 L361.41,97.00 L362.00,96.73 L362.56,96.27 L363.10,96.21 L363.82,96.17 L364.49,96.29 L365.13,96.11 L365.74,96.27 L366.35,96.14 L366.97,96.22 L367.60,96.31 L368.16,96.55 L368.71,96.91 L369.26,97.28 L369.81,97.40 L370.37,97.60 L370.95,97.71 L371.56,97.85 L372.20,98.11 L372.74,98.34 L373.31,98.76 L373.90,99.19 L374.50,99.54 L375.11,99.63 L375.73,99.99 L376.36,100.07 L376.98,100.18 L377.59,100.16 L378.20,100.22 L378.80,100.45 L379.40,100.41 L380.00,100.43 L380.60,100.49 L381.19,100.43 L381.79,100.21 L382.39,100.32 L382.99,100.36 L383.60,100.40 L384.20,100.68 L384.81,100.82 L385.44,100.74 L386.07,100.82 L386.71,100.78 L387.34,100.82 L387.97,100.63 L388.58,100.63 L389.18,100.61 L389.75,100.68 L390.30,100.48 L391.03,100.93 L391.70,101.29 L392.34,101.23 L392.96,101.46 L393.56,101.59 L394.17,101.47 L394.80,101.15 L395.43,101.34 L396.04,101.24 L396.64,101.39 L397.26,101.27 L397.90,101.13 L398.57,100.95 L399.30,100.64 L399.85,100.32 L400.42,100.01 L401.02,99.75 L401.63,99.60 L402.26,99.32 L402.89,99.21 L403.53,99.23 L404.16,99.36 L404.79,99.01 L405.40,99.09 L406.00,99.11 L406.61,99.10 L407.21,99.21 L407.81,99.11 L408.41,99.17 L409.00,98.97 L409.60,98.87 L410.20,98.42 L410.80,98.54 L411.40,98.50 L412.00,98.41 L412.60,98.20 L413.20,98.20 L413.80,98.26 L414.39,97.94 L414.99,97.83 L415.59,97.75 L416.19,97.75 L416.80,97.79 L417.40,97.90 L418.02,97.83 L418.65,97.86 L419.29,97.86 L419.93,97.57 L420.58,97.46 L421.21,97.53 L421.82,97.26 L422.41,97.01 L422.97,96.87 L423.50,96.70 L424.33,96.65 L425.14,96.95 L425.88,97.18 L426.54,97.24 L427.09,97.46 L427.50,97.51" fill="none" stroke="#1CC4C6" stroke-width="1.55" stroke-linejoin="round" stroke-linecap="round"/>
<path d="M432.50,96.28 L433.06,96.38 L434.00,96.10 L434.50,96.00 L435.09,95.96 L435.73,96.07 L436.38,95.88 L437.00,95.93 L437.57,95.69 L438.10,95.38 L438.66,95.11 L439.27,95.01 L440.00,94.89 L440.54,94.95 L441.14,94.83 L441.79,94.54 L442.46,94.30 L443.14,93.88 L443.80,93.78 L444.43,93.69 L445.00,93.39 L445.68,92.94 L446.30,92.86 L446.88,92.04 L447.44,91.72 L448.01,91.44 L448.60,91.41 L449.21,90.92 L449.83,90.77 L450.45,90.33 L451.07,90.18 L451.69,89.47 L452.30,89.24 L452.92,89.40 L453.54,89.41 L454.16,89.26 L454.77,89.21 L455.35,89.05 L455.90,88.43 L456.42,87.95 L456.91,87.74 L457.39,87.49 L457.83,86.87 L458.24,86.60 L458.60,86.18 L458.91,85.51 L459.16,84.86 L459.38,84.46 L459.58,83.72 L459.78,83.08 L460.00,82.57 L460.35,81.75 L460.71,80.90 L461.06,80.46 L461.40,80.12 L461.84,80.16 L462.26,80.86 L462.70,81.64 L462.97,82.26 L463.25,83.04 L463.54,84.27 L463.82,85.13 L464.10,85.37 L464.33,85.00 L464.57,84.60 L464.81,83.68 L465.04,82.77 L465.27,82.18 L465.50,81.69 L465.94,81.17 L466.36,80.52 L466.80,80.47 L467.08,80.77 L467.36,81.44 L467.64,82.09 L467.92,82.80 L468.20,83.04 L468.46,82.72 L468.70,82.07 L468.94,81.18 L469.20,80.28 L469.50,79.59 L470.09,79.12 L470.75,78.84 L471.40,78.62 L472.01,78.91 L472.60,79.23 L473.20,79.34 L473.81,79.19 L474.43,79.11 L475.00,78.56 L475.31,78.16 L475.61,77.67 L475.90,77.18 L476.16,76.16 L476.40,75.49 L476.53,74.84 L476.65,74.25 L476.76,73.49 L476.86,73.01 L476.96,72.42 L477.06,71.99 L477.17,71.39 L477.30,70.83 L477.43,70.26 L477.56,69.32 L477.70,68.73 L477.84,68.24 L477.99,67.62 L478.14,66.84 L478.30,66.56 L478.45,65.84 L478.60,65.28 L478.94,64.32 L479.29,63.93 L479.65,63.02 L480.00,62.90 L480.20,63.21 L480.39,63.61 L480.58,63.93 L480.77,64.50 L480.97,65.41 L481.18,65.94 L481.40,66.14 L481.73,67.16 L482.09,67.83 L482.46,68.27 L482.83,68.77 L483.20,69.48 L483.80,69.54 L484.40,69.85 L485.00,69.98 L485.43,70.36 L485.84,70.65 L486.29,70.91 L486.80,71.31 L487.20,71.11 L487.63,70.71 L488.09,70.63 L488.56,70.32 L489.03,69.64 L489.50,69.54 L490.21,69.56 L490.93,69.59 L491.64,69.97 L492.30,70.08 L492.89,69.94 L493.42,69.51 L493.94,69.02 L494.50,68.37 L494.91,67.97 L495.33,67.38 L495.76,66.91 L496.19,66.55 L496.61,66.03 L497.00,65.64 L497.25,65.18 L497.50,64.51 L497.74,63.92 L497.98,63.49 L498.21,62.56 L498.43,61.80 L498.63,61.33 L498.82,60.33 L499.00,59.46 L499.23,58.69 L499.42,57.80 L499.58,57.13 L499.73,56.69 L499.86,55.95 L500.00,55.49 L500.70,56.04 L500.98,56.74 L501.29,57.75 L501.66,58.70 L502.10,59.11 L502.62,58.97 L503.21,58.55 L503.85,57.86 L504.50,57.31 L504.88,57.11 L505.27,56.61 L505.67,55.95 L506.08,55.56 L506.49,55.00 L506.90,54.36 L507.30,53.91 L507.70,53.49 L508.10,53.17 L508.49,52.84 L508.89,52.17 L509.29,51.75 L509.69,51.29 L510.10,50.59 L510.52,49.77 L510.97,49.42 L511.41,48.91 L511.86,48.31 L512.28,47.86 L512.66,47.32 L513.00,46.81 L513.79,46.01 L514.40,46.03 L514.73,46.30 L515.04,47.09 L515.38,47.96 L515.80,48.72 L516.22,49.32 L516.69,49.93 L517.20,50.52 L517.71,51.11 L518.20,51.33 L518.77,51.43 L519.32,51.30 L519.89,50.93 L520.50,50.26 L520.80,49.75 L521.11,49.32 L521.43,48.91 L521.75,48.17 L522.09,47.62 L522.42,47.25 L522.75,46.66 L523.08,45.99 L523.40,45.70 L523.87,45.17 L524.34,44.62 L524.81,44.06 L525.27,43.60 L525.73,43.23 L526.20,42.94 L526.88,42.63 L527.54,42.66 L528.23,43.08 L529.00,43.63 L529.59,43.52 L530.23,43.74 L530.90,44.19 L531.57,44.36 L532.21,44.41 L532.80,44.90 L533.59,45.03 L534.32,44.86 L534.99,45.02 L535.60,45.48 L536.11,45.80 L536.54,46.22 L536.98,46.94 L537.50,47.67 L537.73,47.75 L537.97,47.91 L538.22,48.47 L538.49,49.03 L538.76,49.73 L539.03,50.50 L539.31,51.28 L539.59,52.00 L539.87,52.50 L540.14,52.87 L540.40,53.57 L540.72,54.16 L541.05,54.69 L541.38,55.30 L541.71,56.18 L542.03,56.62 L542.34,57.39 L542.65,57.88 L542.93,58.32 L543.20,58.58 L543.65,59.38 L544.08,59.80 L544.46,60.46 L544.77,60.99 L545.00,61.45" fill="none" stroke="#1CC4C6" stroke-width="1.55" stroke-linejoin="round" stroke-linecap="round"/>
<line x1="35.5" y1="83.5" x2="35.5" y2="231.0" stroke="#222" stroke-width="1.0" stroke-dasharray="1.6,1.9"/>
<line x1="44.5" y1="72.0" x2="44.5" y2="231.0" stroke="#222" stroke-width="1.0" stroke-dasharray="1.6,1.9"/>
<line x1="49.5" y1="94.0" x2="49.5" y2="231.0" stroke="#222" stroke-width="1.0" stroke-dasharray="1.6,1.9"/>
<line x1="58.5" y1="106.0" x2="58.5" y2="231.0" stroke="#222" stroke-width="1.0" stroke-dasharray="1.6,1.9"/>
<line x1="101.5" y1="125.0" x2="101.5" y2="231.0" stroke="#222" stroke-width="1.0" stroke-dasharray="1.6,1.9"/>
<line x1="109.5" y1="119.0" x2="109.5" y2="231.0" stroke="#222" stroke-width="1.0" stroke-dasharray="1.6,1.9"/>
<line x1="171.5" y1="93.0" x2="171.5" y2="228.5" stroke="#222" stroke-width="1.0" stroke-dasharray="1.6,1.9"/>
<line x1="173.5" y1="84.0" x2="173.5" y2="228.5" stroke="#222" stroke-width="1.0" stroke-dasharray="1.6,1.9"/>
<line x1="177.5" y1="73.0" x2="177.5" y2="228.5" stroke="#222" stroke-width="1.0" stroke-dasharray="1.6,1.9"/>
<line x1="188.5" y1="75.0" x2="188.5" y2="229.0" stroke="#222" stroke-width="1.0" stroke-dasharray="1.6,1.9"/>
<line x1="191.5" y1="80.0" x2="191.5" y2="229.0" stroke="#222" stroke-width="1.0" stroke-dasharray="1.6,1.9"/>
<line x1="213.5" y1="48.0" x2="213.5" y2="229.0" stroke="#222" stroke-width="1.0" stroke-dasharray="1.6,1.9"/>
<line x1="228.5" y1="34.0" x2="228.5" y2="228.5" stroke="#222" stroke-width="1.0" stroke-dasharray="1.6,1.9"/>
<line x1="239.5" y1="24.5" x2="239.5" y2="228.5" stroke="#222" stroke-width="1.0" stroke-dasharray="1.6,1.9"/>
<line x1="251.5" y1="19.0" x2="251.5" y2="228.5" stroke="#222" stroke-width="1.0" stroke-dasharray="1.6,1.9"/>
<line x1="318.5" y1="73.5" x2="318.5" y2="229.5" stroke="#222" stroke-width="1.0" stroke-dasharray="1.6,1.9"/>
<line x1="327.5" y1="65.0" x2="327.5" y2="229.5" stroke="#222" stroke-width="1.0" stroke-dasharray="1.6,1.9"/>
<line x1="332.5" y1="76.5" x2="332.5" y2="229.5" stroke="#222" stroke-width="1.0" stroke-dasharray="1.6,1.9"/>
<line x1="340.5" y1="86.5" x2="340.5" y2="229.5" stroke="#222" stroke-width="1.0" stroke-dasharray="1.6,1.9"/>
<line x1="383.5" y1="97.0" x2="383.5" y2="229.5" stroke="#222" stroke-width="1.0" stroke-dasharray="1.6,1.9"/>
<line x1="388.5" y1="90.5" x2="388.5" y2="229.5" stroke="#222" stroke-width="1.0" stroke-dasharray="1.6,1.9"/>
<line x1="461.5" y1="79.0" x2="461.5" y2="229.5" stroke="#222" stroke-width="1.0" stroke-dasharray="1.6,1.9"/>
<line x1="463.5" y1="72.5" x2="463.5" y2="229.5" stroke="#222" stroke-width="1.0" stroke-dasharray="1.6,1.9"/>
<line x1="467.5" y1="65.0" x2="467.5" y2="229.5" stroke="#222" stroke-width="1.0" stroke-dasharray="1.6,1.9"/>
<line x1="477.5" y1="62.0" x2="477.5" y2="229.5" stroke="#222" stroke-width="1.0" stroke-dasharray="1.6,1.9"/>
<line x1="480.5" y1="61.0" x2="480.5" y2="229.5" stroke="#222" stroke-width="1.0" stroke-dasharray="1.6,1.9"/>
<line x1="500.5" y1="53.0" x2="500.5" y2="229.0" stroke="#222" stroke-width="1.0" stroke-dasharray="1.6,1.9"/>
<line x1="514.5" y1="43.5" x2="514.5" y2="228.5" stroke="#222" stroke-width="1.0" stroke-dasharray="1.6,1.9"/>
<line x1="525.5" y1="35.0" x2="525.5" y2="228.5" stroke="#222" stroke-width="1.0" stroke-dasharray="1.6,1.9"/>
<line x1="536.5" y1="26.0" x2="536.5" y2="228.5" stroke="#222" stroke-width="1.0" stroke-dasharray="1.6,1.9"/>
<line x1="162.3" y1="87.0" x2="170.6" y2="93.0" stroke="#111" stroke-width="1.1"/>
<line x1="164.3" y1="77.4" x2="172.2" y2="83.9" stroke="#111" stroke-width="1.1"/>
<line x1="170.6" y1="67.3" x2="176.7" y2="72.9" stroke="#111" stroke-width="1.1"/>
<line x1="183.0" y1="68.8" x2="188.0" y2="80.9" stroke="#111" stroke-width="1.1"/>
<line x1="197.8" y1="73.4" x2="191.8" y2="80.2" stroke="#111" stroke-width="1.1"/>
<line x1="452.4" y1="73.0" x2="460.9" y2="78.5" stroke="#111" stroke-width="1.1"/>
<line x1="455.1" y1="66.7" x2="462.7" y2="72.0" stroke="#111" stroke-width="1.1"/>
<line x1="458.2" y1="58.4" x2="466.9" y2="64.9" stroke="#111" stroke-width="1.1"/>
<line x1="468.4" y1="56.4" x2="477.0" y2="62.2" stroke="#111" stroke-width="1.1"/>
<line x1="486.8" y1="48.9" x2="482.0" y2="60.6" stroke="#111" stroke-width="1.1"/>
<line x1="23.60" y1="7.25" x2="23.60" y2="237.35" stroke="#000" stroke-width="1.30"/>
<line x1="261.00" y1="7.25" x2="261.00" y2="237.35" stroke="#000" stroke-width="1.30"/>
<line x1="23.60" y1="7.90" x2="136.30" y2="7.90" stroke="#000" stroke-width="1.30"/>
<line x1="140.30" y1="7.90" x2="261.00" y2="7.90" stroke="#000" stroke-width="1.30"/>
<line x1="134.60" y1="3.90" x2="138.20" y2="11.90" stroke="#000" stroke-width="1.1"/>
<line x1="138.60" y1="3.90" x2="142.20" y2="11.90" stroke="#000" stroke-width="1.1"/>
<line x1="23.60" y1="236.70" x2="136.30" y2="236.70" stroke="#000" stroke-width="1.30"/>
<line x1="140.30" y1="236.70" x2="261.00" y2="236.70" stroke="#000" stroke-width="1.30"/>
<line x1="134.60" y1="232.70" x2="138.20" y2="240.70" stroke="#000" stroke-width="1.1"/>
<line x1="138.60" y1="232.70" x2="142.20" y2="240.70" stroke="#000" stroke-width="1.1"/>
<line x1="308.00" y1="7.25" x2="308.00" y2="237.35" stroke="#000" stroke-width="1.30"/>
<line x1="545.20" y1="7.25" x2="545.20" y2="237.35" stroke="#000" stroke-width="1.30"/>
<line x1="308.00" y1="7.90" x2="428.00" y2="7.90" stroke="#000" stroke-width="1.30"/>
<line x1="432.20" y1="7.90" x2="545.20" y2="7.90" stroke="#000" stroke-width="1.30"/>
<line x1="426.30" y1="3.90" x2="429.90" y2="11.90" stroke="#000" stroke-width="1.1"/>
<line x1="430.50" y1="3.90" x2="434.10" y2="11.90" stroke="#000" stroke-width="1.1"/>
<line x1="308.00" y1="236.70" x2="428.00" y2="236.70" stroke="#000" stroke-width="1.30"/>
<line x1="432.20" y1="236.70" x2="545.20" y2="236.70" stroke="#000" stroke-width="1.30"/>
<line x1="426.30" y1="232.70" x2="429.90" y2="240.70" stroke="#000" stroke-width="1.1"/>
<line x1="430.50" y1="232.70" x2="434.10" y2="240.70" stroke="#000" stroke-width="1.1"/>
<line x1="23.60" y1="236.70" x2="23.60" y2="240.60" stroke="#000" stroke-width="1.2"/>
<line x1="63.70" y1="236.70" x2="63.70" y2="240.60" stroke="#000" stroke-width="1.2"/>
<line x1="103.80" y1="236.70" x2="103.80" y2="240.60" stroke="#000" stroke-width="1.2"/>
<line x1="152.20" y1="236.70" x2="152.20" y2="240.60" stroke="#000" stroke-width="1.2"/>
<line x1="192.50" y1="236.70" x2="192.50" y2="240.60" stroke="#000" stroke-width="1.2"/>
<line x1="232.80" y1="236.70" x2="232.80" y2="240.60" stroke="#000" stroke-width="1.2"/>
<line x1="43.65" y1="236.70" x2="43.65" y2="239.20" stroke="#000" stroke-width="1.2"/>
<line x1="83.75" y1="236.70" x2="83.75" y2="239.20" stroke="#000" stroke-width="1.2"/>
<line x1="123.85" y1="236.70" x2="123.85" y2="239.20" stroke="#000" stroke-width="1.2"/>
<line x1="172.35" y1="236.70" x2="172.35" y2="239.20" stroke="#000" stroke-width="1.2"/>
<line x1="212.65" y1="236.70" x2="212.65" y2="239.20" stroke="#000" stroke-width="1.2"/>
<line x1="252.95" y1="236.70" x2="252.95" y2="239.20" stroke="#000" stroke-width="1.2"/>
<line x1="308.00" y1="236.70" x2="308.00" y2="240.60" stroke="#000" stroke-width="1.2"/>
<line x1="345.55" y1="236.70" x2="345.55" y2="240.60" stroke="#000" stroke-width="1.2"/>
<line x1="383.10" y1="236.70" x2="383.10" y2="240.60" stroke="#000" stroke-width="1.2"/>
<line x1="420.65" y1="236.70" x2="420.65" y2="240.60" stroke="#000" stroke-width="1.2"/>
<line x1="443.70" y1="236.70" x2="443.70" y2="240.60" stroke="#000" stroke-width="1.2"/>
<line x1="481.35" y1="236.70" x2="481.35" y2="240.60" stroke="#000" stroke-width="1.2"/>
<line x1="519.00" y1="236.70" x2="519.00" y2="240.60" stroke="#000" stroke-width="1.2"/>
<line x1="326.77" y1="236.70" x2="326.77" y2="239.20" stroke="#000" stroke-width="1.2"/>
<line x1="364.32" y1="236.70" x2="364.32" y2="239.20" stroke="#000" stroke-width="1.2"/>
<line x1="401.88" y1="236.70" x2="401.88" y2="239.20" stroke="#000" stroke-width="1.2"/>
<line x1="462.52" y1="236.70" x2="462.52" y2="239.20" stroke="#000" stroke-width="1.2"/>
<line x1="500.18" y1="236.70" x2="500.18" y2="239.20" stroke="#000" stroke-width="1.2"/>
<line x1="537.83" y1="236.70" x2="537.83" y2="239.20" stroke="#000" stroke-width="1.2"/>
<text x="23.60" y="251.90" font-family='"Liberation Serif", serif' font-weight="bold" font-size="9.20" fill="#000" stroke="#000" stroke-width="0.12" text-anchor="middle" >4000</text>
<text x="63.70" y="251.90" font-family='"Liberation Serif", serif' font-weight="bold" font-size="9.20" fill="#000" stroke="#000" stroke-width="0.12" text-anchor="middle" >3500</text>
<text x="103.80" y="251.90" font-family='"Liberation Serif", serif' font-weight="bold" font-size="9.20" fill="#000" stroke="#000" stroke-width="0.12" text-anchor="middle" >3000</text>
<text x="152.20" y="251.90" font-family='"Liberation Serif", serif' font-weight="bold" font-size="9.20" fill="#000" stroke="#000" stroke-width="0.12" text-anchor="middle" >2000</text>
<text x="192.50" y="251.90" font-family='"Liberation Serif", serif' font-weight="bold" font-size="9.20" fill="#000" stroke="#000" stroke-width="0.12" text-anchor="middle" >1500</text>
<text x="232.80" y="251.90" font-family='"Liberation Serif", serif' font-weight="bold" font-size="9.20" fill="#000" stroke="#000" stroke-width="0.12" text-anchor="middle" >1000</text>
<text x="308.00" y="251.90" font-family='"Liberation Serif", serif' font-weight="bold" font-size="9.20" fill="#000" stroke="#000" stroke-width="0.12" text-anchor="middle" >4000</text>
<text x="345.55" y="251.90" font-family='"Liberation Serif", serif' font-weight="bold" font-size="9.20" fill="#000" stroke="#000" stroke-width="0.12" text-anchor="middle" >3500</text>
<text x="383.10" y="251.90" font-family='"Liberation Serif", serif' font-weight="bold" font-size="9.20" fill="#000" stroke="#000" stroke-width="0.12" text-anchor="middle" >3000</text>
<text x="420.65" y="251.90" font-family='"Liberation Serif", serif' font-weight="bold" font-size="9.20" fill="#000" stroke="#000" stroke-width="0.12" text-anchor="middle" >2500</text>
<text x="443.70" y="251.90" font-family='"Liberation Serif", serif' font-weight="bold" font-size="9.20" fill="#000" stroke="#000" stroke-width="0.12" text-anchor="middle" >2000</text>
<text x="481.35" y="251.90" font-family='"Liberation Serif", serif' font-weight="bold" font-size="9.20" fill="#000" stroke="#000" stroke-width="0.12" text-anchor="middle" >1500</text>
<text x="519.00" y="251.90" font-family='"Liberation Serif", serif' font-weight="bold" font-size="9.20" fill="#000" stroke="#000" stroke-width="0.12" text-anchor="middle" >1000</text>
<text x="142.60" y="272.1" font-family='"Liberation Serif", serif' font-weight="bold" font-size="11.5" text-anchor="middle">Wavenumber (cm<tspan font-size="7.5" dy="-4.2">−1</tspan><tspan dy="4.2">)</tspan></text>
<text x="427.00" y="272.1" font-family='"Liberation Serif", serif' font-weight="bold" font-size="11.5" text-anchor="middle">Wavenumber (cm<tspan font-size="7.5" dy="-4.2">−1</tspan><tspan dy="4.2">)</tspan></text>
<text x="0" y="0" transform="translate(11.90,120.50) rotate(-90) scale(1,0.87)" font-family='"Liberation Serif", serif' font-weight="bold" font-size="11.7" stroke="#000" stroke-width="0.2" text-anchor="middle">Absorbance (a.u.)</text>
<text x="0" y="0" transform="translate(296.30,125.30) rotate(-90) scale(1,0.87)" font-family='"Liberation Serif", serif' font-weight="bold" font-size="11.7" stroke="#000" stroke-width="0.2" text-anchor="middle">Absorbance (a.u.)</text>
<text x="27" y="21.8" font-family='"Liberation Serif", serif' font-weight="bold" font-size="10.25" stroke="#000" stroke-width="0.1">(A) Pt/CeMnO<tspan font-size="7.2" font-style="italic" dy="2.5">x</tspan><tspan dy="-2.5">/diatomite</tspan></text>
<text x="312" y="21.8" font-family='"Liberation Serif", serif' font-weight="bold" font-size="10.25" stroke="#000" stroke-width="0.1">(B) Pt/CeMnO<tspan font-size="7.2" font-style="italic" dy="2.5">x</tspan></text>
<text x="33.30" y="83.10" font-family='"Liberation Serif", serif' font-weight="bold" font-size="7.40" fill="#000" stroke="#000" stroke-width="0.12" text-anchor="middle" >3844</text>
<text x="44.20" y="71.50" font-family='"Liberation Serif", serif' font-weight="bold" font-size="7.40" fill="#000" stroke="#000" stroke-width="0.12" text-anchor="middle" >3741</text>
<text x="53.80" y="93.40" font-family='"Liberation Serif", serif' font-weight="bold" font-size="7.40" fill="#000" stroke="#000" stroke-width="0.12" text-anchor="middle" >3680</text>
<text x="59.90" y="105.40" font-family='"Liberation Serif", serif' font-weight="bold" font-size="7.40" fill="#000" stroke="#000" stroke-width="0.12" text-anchor="middle" >3568</text>
<text x="97.70" y="124.60" font-family='"Liberation Serif", serif' font-weight="bold" font-size="7.40" fill="#000" stroke="#000" stroke-width="0.12" text-anchor="middle" >3033</text>
<text x="110.00" y="118.30" font-family='"Liberation Serif", serif' font-weight="bold" font-size="7.40" fill="#000" stroke="#000" stroke-width="0.12" text-anchor="middle" >2927</text>
<text x="158.50" y="86.00" font-family='"Liberation Serif", serif' font-weight="bold" font-size="7.40" fill="#000" stroke="#000" stroke-width="0.12" text-anchor="middle" >1762</text>
<text x="160.80" y="76.20" font-family='"Liberation Serif", serif' font-weight="bold" font-size="7.40" fill="#000" stroke="#000" stroke-width="0.12" text-anchor="middle" >1734</text>
<text x="165.00" y="66.40" font-family='"Liberation Serif", serif' font-weight="bold" font-size="7.40" fill="#000" stroke="#000" stroke-width="0.12" text-anchor="middle" >1685</text>
<text x="185.20" y="68.80" font-family='"Liberation Serif", serif' font-weight="bold" font-size="7.40" fill="#000" stroke="#000" stroke-width="0.12" text-anchor="middle" >1547</text>
<text x="202.00" y="71.10" font-family='"Liberation Serif", serif' font-weight="bold" font-size="7.40" fill="#000" stroke="#000" stroke-width="0.12" text-anchor="middle" >1512</text>
<text x="213.30" y="47.20" font-family='"Liberation Serif", serif' font-weight="bold" font-size="7.40" fill="#000" stroke="#000" stroke-width="0.12" text-anchor="middle" >1244</text>
<text x="227.10" y="32.70" font-family='"Liberation Serif", serif' font-weight="bold" font-size="7.40" fill="#000" stroke="#000" stroke-width="0.12" text-anchor="middle" >1051</text>
<text x="238.65" y="23.50" font-family='"Liberation Serif", serif' font-weight="bold" font-size="7.40" fill="#000" stroke="#000" stroke-width="0.12" text-anchor="middle" >919</text>
<text x="251.45" y="17.90" font-family='"Liberation Serif", serif' font-weight="bold" font-size="7.40" fill="#000" stroke="#000" stroke-width="0.12" text-anchor="middle" >768</text>
<text x="316.20" y="72.80" font-family='"Liberation Serif", serif' font-weight="bold" font-size="7.40" fill="#000" stroke="#000" stroke-width="0.12" text-anchor="middle" >3844</text>
<text x="327.20" y="64.50" font-family='"Liberation Serif", serif' font-weight="bold" font-size="7.40" fill="#000" stroke="#000" stroke-width="0.12" text-anchor="middle" >3741</text>
<text x="336.60" y="75.90" font-family='"Liberation Serif", serif' font-weight="bold" font-size="7.40" fill="#000" stroke="#000" stroke-width="0.12" text-anchor="middle" >3680</text>
<text x="344.40" y="85.90" font-family='"Liberation Serif", serif' font-weight="bold" font-size="7.40" fill="#000" stroke="#000" stroke-width="0.12" text-anchor="middle" >3568</text>
<text x="380.10" y="95.80" font-family='"Liberation Serif", serif' font-weight="bold" font-size="7.40" fill="#000" stroke="#000" stroke-width="0.12" text-anchor="middle" >3033</text>
<text x="391.80" y="89.60" font-family='"Liberation Serif", serif' font-weight="bold" font-size="7.40" fill="#000" stroke="#000" stroke-width="0.12" text-anchor="middle" >2927</text>
<text x="445.00" y="75.90" font-family='"Liberation Serif", serif' font-weight="bold" font-size="7.40" fill="#000" stroke="#000" stroke-width="0.12" text-anchor="middle" >1762</text>
<text x="448.40" y="68.00" font-family='"Liberation Serif", serif' font-weight="bold" font-size="7.40" fill="#000" stroke="#000" stroke-width="0.12" text-anchor="middle" >1734</text>
<text x="451.00" y="60.80" font-family='"Liberation Serif", serif' font-weight="bold" font-size="7.40" fill="#000" stroke="#000" stroke-width="0.12" text-anchor="middle" >1685</text>
<text x="467.20" y="55.10" font-family='"Liberation Serif", serif' font-weight="bold" font-size="7.40" fill="#000" stroke="#000" stroke-width="0.12" text-anchor="middle" >1547</text>
<text x="483.50" y="48.40" font-family='"Liberation Serif", serif' font-weight="bold" font-size="7.40" fill="#000" stroke="#000" stroke-width="0.12" text-anchor="middle" >1512</text>
<text x="499.90" y="52.30" font-family='"Liberation Serif", serif' font-weight="bold" font-size="7.40" fill="#000" stroke="#000" stroke-width="0.12" text-anchor="middle" >1244</text>
<text x="514.20" y="42.80" font-family='"Liberation Serif", serif' font-weight="bold" font-size="7.40" fill="#000" stroke="#000" stroke-width="0.12" text-anchor="middle" >1051</text>
<text x="524.75" y="34.10" font-family='"Liberation Serif", serif' font-weight="bold" font-size="7.40" fill="#000" stroke="#000" stroke-width="0.12" text-anchor="middle" >919</text>
<text x="536.45" y="25.20" font-family='"Liberation Serif", serif' font-weight="bold" font-size="7.40" fill="#000" stroke="#000" stroke-width="0.12" text-anchor="middle" >768</text>
<text x="127.75" y="127.10" font-family='"Liberation Serif", serif' font-weight="bold" font-size="7.70" fill="#1CC4C6" stroke="#1CC4C6" stroke-width="0.12" text-anchor="middle" >300 °C</text>
<text x="128.05" y="144.00" font-family='"Liberation Serif", serif' font-weight="bold" font-size="7.70" fill="#F068EE" stroke="#F068EE" stroke-width="0.12" text-anchor="middle" >280 °C</text>
<text x="128.70" y="163.10" font-family='"Liberation Serif", serif' font-weight="bold" font-size="7.70" fill="#70AE28" stroke="#70AE28" stroke-width="0.12" text-anchor="middle" >260 °C</text>
<text x="128.85" y="182.10" font-family='"Liberation Serif", serif' font-weight="bold" font-size="7.70" fill="#F76C1C" stroke="#F76C1C" stroke-width="0.12" text-anchor="middle" >240 °C</text>
<text x="130.05" y="200.40" font-family='"Liberation Serif", serif' font-weight="bold" font-size="7.70" fill="#1A88E4" stroke="#1A88E4" stroke-width="0.12" text-anchor="middle" >180 °C</text>
<text x="129.60" y="214.10" font-family='"Liberation Serif", serif' font-weight="bold" font-size="7.70" fill="#F5A262" stroke="#F5A262" stroke-width="0.12" text-anchor="middle" >120 °C</text>
<text x="128.85" y="226.40" font-family='"Liberation Serif", serif' font-weight="bold" font-size="7.70" fill="#A266E6" stroke="#A266E6" stroke-width="0.12" text-anchor="middle" >60 °C</text>
<text x="409.70" y="96.00" font-family='"Liberation Serif", serif' font-weight="bold" font-size="7.70" fill="#1CC4C6" stroke="#1CC4C6" stroke-width="0.12" text-anchor="middle" >300 °C</text>
<text x="409.90" y="120.10" font-family='"Liberation Serif", serif' font-weight="bold" font-size="7.70" fill="#F068EE" stroke="#F068EE" stroke-width="0.12" text-anchor="middle" >280 °C</text>
<text x="409.80" y="142.50" font-family='"Liberation Serif", serif' font-weight="bold" font-size="7.70" fill="#70AE28" stroke="#70AE28" stroke-width="0.12" text-anchor="middle" >260 °C</text>
<text x="409.90" y="163.00" font-family='"Liberation Serif", serif' font-weight="bold" font-size="7.70" fill="#F76C1C" stroke="#F76C1C" stroke-width="0.12" text-anchor="middle" >240 °C</text>
<text x="410.30" y="184.60" font-family='"Liberation Serif", serif' font-weight="bold" font-size="7.70" fill="#1A88E4" stroke="#1A88E4" stroke-width="0.12" text-anchor="middle" >180 °C</text>
<text x="410.50" y="204.60" font-family='"Liberation Serif", serif' font-weight="bold" font-size="7.70" fill="#F5A262" stroke="#F5A262" stroke-width="0.12" text-anchor="middle" >120 °C</text>
<text x="409.90" y="223.20" font-family='"Liberation Serif", serif' font-weight="bold" font-size="7.70" fill="#A266E6" stroke="#A266E6" stroke-width="0.12" text-anchor="middle" >60 °C</text>
</svg>
</body></html>
